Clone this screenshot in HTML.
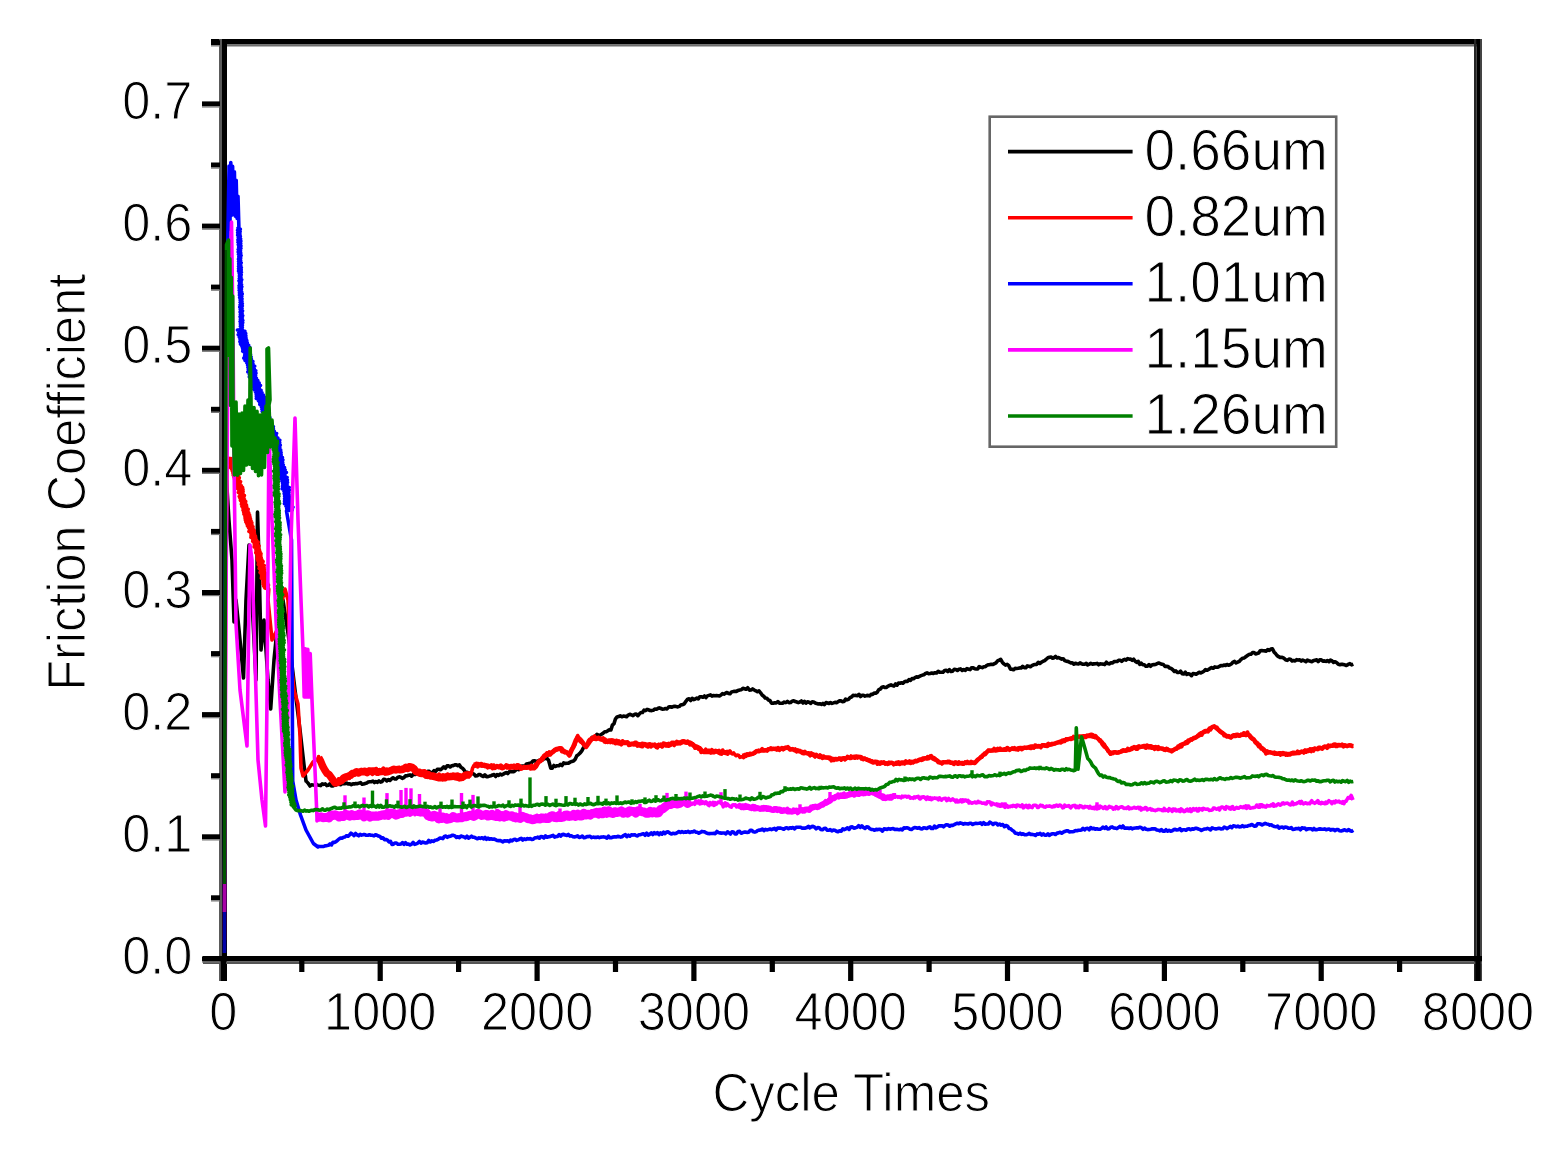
<!DOCTYPE html><html><head><meta charset="utf-8"><style>html,body{margin:0;padding:0;background:#fff;overflow:hidden;}svg{display:block;}text{font-family:"Liberation Sans",Arial,sans-serif;fill:#000;stroke:#fff;stroke-width:1.0px;stroke-linejoin:round;}</style></head><body>
<svg width="1544" height="1157" viewBox="0 0 1544 1157">
<rect width="1544" height="1157" fill="#fff"/>
<rect x="211" y="39" width="1271" height="5.5" fill="#000"/>
<rect x="219" y="44.5" width="1259" height="2" fill="#6e6e6e"/>
<rect x="219" y="39" width="3" height="942" fill="#5a5a5a"/>
<rect x="222" y="39" width="5" height="942" fill="#000"/>
<rect x="1474" y="39" width="2.5" height="942" fill="#262626"/>
<rect x="1476.5" y="39" width="3.5" height="942" fill="#000"/>
<rect x="1480" y="39" width="2" height="942" fill="#444"/>
<rect x="203" y="956" width="1279" height="5.5" fill="#000"/>
<rect x="203" y="961.5" width="1279" height="2.5" fill="#555"/>
<rect x="202" y="956.4" width="18" height="5" fill="#000"/>
<rect x="202" y="961.4" width="18" height="1.2" fill="#777"/>
<rect x="211" y="895.3" width="9" height="5" fill="#000"/>
<rect x="211" y="900.3" width="9" height="1.2" fill="#777"/>
<rect x="202" y="834.3" width="18" height="5" fill="#000"/>
<rect x="202" y="839.3" width="18" height="1.2" fill="#777"/>
<rect x="211" y="773.2" width="9" height="5" fill="#000"/>
<rect x="211" y="778.2" width="9" height="1.2" fill="#777"/>
<rect x="202" y="712.1" width="18" height="5" fill="#000"/>
<rect x="202" y="717.1" width="18" height="1.2" fill="#777"/>
<rect x="211" y="651.1" width="9" height="5" fill="#000"/>
<rect x="211" y="656.1" width="9" height="1.2" fill="#777"/>
<rect x="202" y="590.0" width="18" height="5" fill="#000"/>
<rect x="202" y="595.0" width="18" height="1.2" fill="#777"/>
<rect x="211" y="528.9" width="9" height="5" fill="#000"/>
<rect x="211" y="533.9" width="9" height="1.2" fill="#777"/>
<rect x="202" y="467.8" width="18" height="5" fill="#000"/>
<rect x="202" y="472.8" width="18" height="1.2" fill="#777"/>
<rect x="211" y="406.8" width="9" height="5" fill="#000"/>
<rect x="211" y="411.8" width="9" height="1.2" fill="#777"/>
<rect x="202" y="345.7" width="18" height="5" fill="#000"/>
<rect x="202" y="350.7" width="18" height="1.2" fill="#777"/>
<rect x="211" y="284.6" width="9" height="5" fill="#000"/>
<rect x="211" y="289.6" width="9" height="1.2" fill="#777"/>
<rect x="202" y="223.6" width="18" height="5" fill="#000"/>
<rect x="202" y="228.6" width="18" height="1.2" fill="#777"/>
<rect x="211" y="162.5" width="9" height="5" fill="#000"/>
<rect x="211" y="167.5" width="9" height="1.2" fill="#777"/>
<rect x="202" y="101.4" width="18" height="5" fill="#000"/>
<rect x="202" y="106.4" width="18" height="1.2" fill="#777"/>
<rect x="211" y="40.3" width="9" height="5" fill="#000"/>
<rect x="211" y="45.3" width="9" height="1.2" fill="#777"/>
<rect x="220.8" y="960" width="5.2" height="21" fill="#000"/>
<rect x="299.2" y="960" width="5.2" height="12" fill="#000"/>
<rect x="377.6" y="960" width="5.2" height="21" fill="#000"/>
<rect x="456.0" y="960" width="5.2" height="12" fill="#000"/>
<rect x="534.5" y="960" width="5.2" height="21" fill="#000"/>
<rect x="612.9" y="960" width="5.2" height="12" fill="#000"/>
<rect x="691.3" y="960" width="5.2" height="21" fill="#000"/>
<rect x="769.7" y="960" width="5.2" height="12" fill="#000"/>
<rect x="848.1" y="960" width="5.2" height="21" fill="#000"/>
<rect x="926.5" y="960" width="5.2" height="12" fill="#000"/>
<rect x="1004.9" y="960" width="5.2" height="21" fill="#000"/>
<rect x="1083.4" y="960" width="5.2" height="12" fill="#000"/>
<rect x="1161.8" y="960" width="5.2" height="21" fill="#000"/>
<rect x="1240.2" y="960" width="5.2" height="12" fill="#000"/>
<rect x="1318.6" y="960" width="5.2" height="21" fill="#000"/>
<rect x="1397.0" y="960" width="5.2" height="12" fill="#000"/>
<rect x="1475.4" y="960" width="5.2" height="21" fill="#000"/>
<polyline points="224.5,959.0 225.0,560.0 226.5,480.0 229.0,521.0 232.0,560.0 234.0,622.0 236.0,600.0 240.0,640.0 243.5,678.0 246.0,600.0 249.0,545.0 252.0,600.0 254.5,650.0 256.0,680.0 257.5,512.0 259.0,560.0 261.0,650.0 264.0,620.0 268.0,680.0 270.7,709.0 274.0,660.0 278.0,620.0 283.0,600.0 289.0,640.0 295.0,690.0 300.0,730.0 304.0,765.0 306.0,781.0 306.0,780.9 308.0,783.1 310.0,786.0 311.5,784.9 313.1,785.0 314.6,785.2 316.1,784.2 317.6,785.0 319.2,785.2 320.7,785.6 322.2,783.9 323.7,784.4 325.3,783.9 326.8,785.6 328.3,785.3 329.8,783.8 331.4,786.0 332.9,786.0 334.4,785.2 335.9,785.1 337.5,784.0 339.0,783.6 340.5,784.7 342.1,783.5 343.6,783.7 345.2,783.7 346.7,783.1 348.2,784.0 349.8,783.8 351.3,784.6 352.9,783.8 354.4,783.9 355.9,783.5 357.5,783.7 359.0,783.1 360.5,782.6 362.1,784.2 363.6,784.0 365.2,783.5 366.7,783.1 368.2,782.0 369.8,781.7 371.3,781.7 372.9,781.1 374.4,782.6 375.9,781.5 377.5,782.3 379.0,780.9 380.6,782.1 382.1,781.5 383.7,779.2 385.2,779.5 386.8,780.9 388.3,779.6 389.9,780.5 391.4,778.9 393.0,777.8 394.5,778.9 396.1,779.0 397.6,777.5 399.2,776.8 400.7,777.2 402.3,778.4 403.8,777.7 405.4,775.9 406.9,775.9 408.5,775.3 410.0,774.9 411.7,776.2 413.3,774.2 415.0,774.5 416.7,773.7 418.3,772.6 420.0,773.4 421.6,771.8 423.1,772.9 424.6,771.5 426.2,772.1 427.8,771.4 429.3,771.4 430.8,773.0 432.4,772.4 434.0,770.7 435.6,771.5 437.3,769.3 438.9,769.2 440.5,769.7 442.1,768.6 443.8,766.8 445.4,768.3 447.0,765.9 448.6,765.9 450.1,767.0 451.6,765.8 453.2,765.6 454.8,764.9 456.3,764.8 457.8,765.8 459.4,764.9 460.9,767.3 462.5,768.3 464.1,770.0 465.6,772.8 467.3,772.3 469.0,773.2 470.6,774.5 472.3,773.5 474.0,774.1 475.6,776.0 477.1,775.8 478.6,774.6 480.2,774.5 481.8,775.9 483.3,776.5 484.9,774.8 486.4,776.7 488.0,776.6 489.5,776.1 491.1,775.7 492.6,775.0 494.1,774.6 495.6,776.5 497.1,774.5 498.6,775.3 500.1,774.0 501.7,775.0 503.2,774.2 504.7,773.2 506.2,772.6 507.7,773.6 509.2,771.8 510.8,771.5 512.3,771.6 513.9,771.6 515.5,770.3 517.0,768.8 518.6,769.7 520.2,767.2 521.7,766.1 523.3,766.0 524.9,765.8 526.4,764.1 528.0,763.7 529.6,763.3 531.2,763.0 532.8,761.1 534.4,760.8 536.0,761.2 537.6,761.3 539.1,760.4 540.7,760.4 542.3,760.0 543.9,758.8 545.5,758.4 547.0,758.3 548.6,760.3 550.7,768.1 552.3,768.2 553.9,765.5 555.5,766.5 557.1,765.7 558.8,765.8 560.4,764.4 562.0,765.5 563.6,762.8 565.2,763.5 566.9,763.3 568.5,763.1 570.2,762.1 571.8,761.4 573.5,761.0 575.2,759.2 576.8,755.8 578.5,754.6 580.1,753.0 581.8,750.9 583.5,747.7 585.3,746.5 587.0,744.6 588.7,741.8 590.5,739.9 592.2,737.2 593.8,737.0 595.3,736.4 596.9,734.4 598.4,735.1 600.0,735.2 601.5,734.3 603.1,733.2 604.7,731.7 606.2,731.8 607.8,730.8 609.3,729.7 610.9,730.0 612.4,725.1 614.0,723.6 615.5,718.8 617.0,717.0 618.6,716.6 620.2,715.8 621.8,716.8 623.4,716.1 625.0,716.3 626.6,716.8 628.2,715.1 629.8,714.3 631.4,714.9 633.0,715.6 634.6,714.3 636.2,714.1 637.8,715.7 639.3,714.0 640.9,712.5 642.5,712.5 644.0,710.1 645.5,710.7 647.1,709.4 648.6,709.8 650.1,710.5 651.7,710.6 653.2,710.3 654.7,709.0 656.3,709.3 657.8,708.5 659.3,707.8 660.9,708.5 662.4,709.2 664.0,709.0 665.5,708.5 667.0,708.9 668.6,707.1 670.1,706.7 671.6,707.2 673.2,706.6 674.7,706.2 676.2,706.6 677.8,706.9 679.3,706.4 681.0,704.7 682.6,704.7 684.3,703.8 685.9,701.3 687.6,699.2 689.1,698.8 690.7,700.5 692.2,698.3 693.7,699.6 695.2,699.0 696.8,698.1 698.3,698.9 699.8,696.8 701.3,696.8 702.9,697.3 704.4,696.0 705.9,697.6 707.4,695.9 709.0,695.4 710.5,694.9 712.0,696.1 713.5,695.5 715.0,695.7 716.5,695.5 718.0,695.7 719.5,695.9 721.0,695.0 722.5,693.6 724.0,694.1 725.5,693.2 727.0,692.5 728.5,693.4 730.0,693.8 731.6,691.9 733.2,691.6 734.8,691.2 736.4,691.4 738.1,690.4 739.7,690.0 741.3,689.8 742.9,688.3 744.5,688.7 746.1,689.3 747.7,687.7 749.3,690.1 750.9,690.0 752.6,688.9 754.2,690.0 755.8,690.8 757.4,691.8 759.0,690.9 760.6,692.8 762.1,695.0 763.7,696.2 765.2,698.0 766.8,698.2 768.4,700.1 769.9,700.5 771.5,703.1 773.1,703.3 774.7,702.8 776.3,702.9 777.9,701.6 779.5,703.2 781.1,703.3 782.6,703.2 784.2,702.1 785.8,702.6 787.4,701.4 789.0,702.7 790.6,702.5 792.2,701.2 793.7,700.7 795.3,701.6 796.8,702.0 798.3,702.6 799.9,702.0 801.4,701.0 802.9,703.0 804.5,701.3 806.0,703.1 807.5,701.7 809.1,702.2 810.6,703.4 812.2,701.9 813.7,702.0 815.2,703.0 816.8,703.6 818.3,704.0 819.8,703.7 821.4,704.4 822.9,703.4 824.4,704.6 826.0,702.6 827.5,703.0 829.0,703.5 830.5,702.6 832.0,703.4 833.5,702.9 835.0,702.3 836.5,702.8 838.0,701.8 839.5,700.9 841.0,700.8 842.5,701.6 844.0,701.5 845.5,699.1 847.0,699.9 848.5,699.4 850.0,697.6 851.5,697.0 853.0,695.4 854.5,695.5 856.0,695.4 857.5,695.7 859.0,694.3 860.5,696.5 862.0,695.4 863.5,695.2 865.0,696.1 866.5,695.6 868.0,695.4 869.5,695.9 871.0,694.4 872.6,694.4 874.1,693.1 875.7,693.3 877.2,692.2 878.8,689.6 880.4,689.0 881.9,687.2 883.5,686.8 885.0,687.5 886.5,687.4 888.0,686.1 889.5,685.5 891.0,684.9 892.5,685.6 894.0,686.1 895.5,683.9 897.0,685.2 898.5,683.1 900.0,683.3 901.5,682.8 903.0,683.3 904.5,681.8 906.0,681.3 907.5,681.4 909.0,679.6 910.5,680.5 912.0,678.5 913.5,678.8 915.0,677.6 916.5,676.9 918.0,677.1 919.5,676.3 921.0,675.6 922.5,675.1 924.0,674.8 925.5,673.4 927.0,672.9 928.6,673.7 930.2,673.5 931.8,673.0 933.4,673.5 935.0,672.7 936.6,673.0 938.2,671.3 939.8,672.3 941.4,672.2 943.0,672.2 944.6,670.5 946.2,670.3 947.8,671.5 949.4,669.7 951.0,671.5 952.6,671.2 954.2,669.3 955.8,669.5 957.4,670.5 959.0,669.3 960.6,668.9 962.2,670.5 963.8,669.5 965.4,670.3 967.0,668.6 968.6,669.2 970.1,669.6 971.6,667.7 973.2,667.9 974.7,668.7 976.2,669.0 977.7,668.9 979.2,666.6 980.8,667.2 982.3,667.6 983.8,666.7 985.3,666.8 986.8,665.4 988.4,664.8 989.9,664.6 991.4,664.2 993.0,664.5 994.5,663.6 996.0,662.8 997.6,660.9 999.2,660.1 1000.7,659.3 1002.3,662.2 1003.9,663.9 1005.5,665.1 1007.2,664.4 1008.8,665.7 1010.4,669.1 1012.0,669.3 1013.5,669.8 1015.1,668.4 1016.6,668.5 1018.1,668.3 1019.7,667.9 1021.2,668.0 1022.7,666.3 1024.3,667.7 1025.8,667.8 1027.3,665.9 1028.9,666.3 1030.4,666.7 1031.9,665.6 1033.5,664.8 1035.0,664.5 1036.6,664.4 1038.2,662.3 1039.8,663.5 1041.4,662.3 1043.1,661.2 1044.7,660.6 1046.3,659.2 1047.9,657.7 1049.5,657.2 1051.0,657.0 1052.6,658.2 1054.1,657.7 1055.6,656.4 1057.2,658.0 1058.7,657.6 1060.2,658.3 1061.7,659.1 1063.2,658.7 1064.7,660.6 1066.2,661.2 1067.8,661.4 1069.3,662.2 1070.8,662.9 1072.3,662.7 1073.8,664.1 1075.3,663.2 1076.9,663.8 1078.4,664.0 1080.0,662.9 1081.5,663.7 1083.1,664.3 1084.6,664.2 1086.2,663.3 1087.7,664.9 1089.3,664.2 1090.8,663.4 1092.4,664.1 1093.9,663.9 1095.5,663.7 1097.1,663.4 1098.6,664.8 1100.2,663.9 1101.7,664.0 1103.3,664.1 1104.8,664.6 1106.4,662.2 1107.9,663.6 1109.5,663.9 1111.0,662.7 1112.6,663.0 1114.1,661.6 1115.6,661.5 1117.1,661.5 1118.6,660.3 1120.1,660.2 1121.7,661.3 1123.2,660.0 1124.7,659.4 1126.2,660.1 1127.7,658.6 1129.2,659.2 1130.7,659.1 1132.2,660.3 1133.7,659.2 1135.2,661.3 1136.7,662.4 1138.3,661.4 1139.8,664.3 1141.3,663.2 1142.8,664.7 1144.3,664.8 1145.8,666.3 1147.4,666.2 1149.0,664.6 1150.6,666.3 1152.2,664.7 1153.9,664.6 1155.5,664.5 1157.1,663.6 1158.7,663.0 1160.3,663.6 1161.9,664.3 1163.4,664.5 1165.0,666.5 1166.5,666.4 1168.1,666.6 1169.7,668.1 1171.2,668.5 1172.8,669.7 1174.4,671.5 1175.9,670.9 1177.5,672.5 1179.0,672.5 1180.6,671.1 1182.2,673.7 1183.7,674.0 1185.3,672.2 1186.8,674.5 1188.4,673.7 1189.9,674.2 1191.5,675.7 1193.0,673.5 1194.6,673.7 1196.2,674.3 1197.7,673.3 1199.2,672.2 1200.8,673.0 1202.3,672.2 1203.9,671.2 1205.5,669.6 1207.0,670.3 1208.5,669.5 1210.1,668.4 1211.6,667.6 1213.2,668.3 1214.8,666.9 1216.3,667.2 1217.8,667.3 1219.4,666.4 1220.9,665.5 1222.4,665.8 1223.9,665.0 1225.5,665.5 1227.0,664.5 1228.5,665.2 1230.0,664.7 1231.6,663.7 1233.1,662.1 1234.6,661.4 1236.1,662.9 1237.7,662.2 1239.2,661.4 1240.9,659.6 1242.6,658.2 1244.3,657.9 1246.1,656.5 1247.8,655.3 1249.5,654.2 1251.0,654.2 1252.6,652.6 1254.1,652.5 1255.6,653.9 1257.1,653.5 1258.7,653.1 1260.2,650.8 1261.7,650.6 1263.2,650.8 1264.8,650.9 1266.3,651.1 1267.8,649.6 1269.3,650.4 1270.9,649.0 1272.4,648.7 1274.0,651.9 1275.5,653.5 1277.0,655.5 1278.6,656.7 1280.3,657.5 1282.1,657.3 1283.8,658.2 1285.5,659.7 1287.3,660.4 1289.0,659.1 1290.5,659.2 1292.1,660.9 1293.6,660.5 1295.1,660.9 1296.7,659.6 1298.2,660.1 1299.8,659.8 1301.3,661.1 1302.8,660.1 1304.4,660.8 1305.9,661.7 1307.4,660.1 1309.0,660.7 1310.5,661.2 1312.1,661.7 1313.6,660.5 1315.1,660.4 1316.7,659.8 1318.2,661.7 1319.7,659.8 1321.3,659.9 1322.8,661.1 1324.4,660.9 1325.9,661.4 1327.4,660.5 1329.0,661.7 1330.5,660.1 1332.1,660.9 1333.6,662.5 1335.2,661.7 1336.8,662.7 1338.3,664.3 1339.9,664.7 1341.4,664.3 1343.0,664.4 1344.7,664.8 1346.4,665.5 1348.2,664.4 1349.9,663.6 1351.6,664.9 1353.3,664.2" fill="none" stroke="#000" stroke-width="3.6" stroke-linejoin="round" stroke-linecap="butt"/>
<polyline points="742.4,755.9 744.5,755.2 746.5,754.5 748.6,755.0 750.7,754.5 752.7,753.8 754.8,752.4 756.9,751.0 758.9,751.4 761.0,750.3 763.1,750.6 765.2,750.2 767.2,749.9 769.3,749.2 771.4,749.0 773.5,748.7 775.5,749.1 777.6,748.7 779.7,749.6 781.8,748.0 783.8,749.0 785.9,747.8 788.0,747.7 790.1,749.6 792.2,749.0 794.3,750.2 796.3,750.8 798.4,751.1 800.5,751.6 802.6,751.8 804.7,753.2 806.7,753.2 808.8,754.0 810.9,754.9 813.0,754.2 815.0,755.2 817.1,755.6 819.2,757.0 821.3,757.0 823.3,756.8 825.4,757.7 827.5,757.5 829.6,758.7 831.6,758.5 833.7,759.1 835.8,759.5 837.9,759.2 839.9,758.5 842.0,758.8 844.1,758.1 846.2,758.5 848.2,757.2 850.3,758.2 852.4,757.3 854.5,756.6 856.5,756.5 858.6,756.8 860.7,756.8 862.7,759.0 864.8,758.7 866.9,759.9 868.9,760.2 871.0,761.6 873.1,762.7 875.2,761.7 877.3,762.0 879.4,762.8 881.4,763.2 883.5,762.7 885.6,763.1 887.7,764.0 889.8,763.2 891.8,762.7 893.9,763.7 896.0,763.8 898.1,763.5 900.1,763.5 902.2,762.3 904.3,762.3 906.3,762.6 908.4,762.5 910.5,762.4 912.6,762.1 914.6,761.4 916.7,761.3 918.8,760.3 920.8,759.5 922.9,759.6 925.0,758.1 927.1,758.7 929.1,758.1 931.2,756.0 933.3,758.9 935.4,759.9 937.4,760.5 939.5,762.6 941.6,762.6 943.7,762.5 945.7,762.1 947.8,762.4 949.9,762.0 952.0,762.7 954.0,762.8 956.1,762.4 958.2,763.5 960.3,763.4 962.3,762.8 964.4,763.3 966.5,762.6 968.6,763.2 970.6,763.2 972.7,762.6 974.8,763.2 976.9,760.8 978.9,758.7 981.0,757.3 983.1,755.0 985.2,754.2 987.2,751.7 989.3,750.3 991.4,750.7 993.5,750.2 995.5,750.6 997.6,750.1 999.7,749.9 1001.8,749.9 1003.9,749.7 1005.9,749.9 1008.0,749.3 1010.1,749.2 1012.2,748.9 1014.3,748.8 1016.3,749.3 1018.4,748.1 1020.5,747.8 1022.6,748.1 1024.6,747.5 1026.7,748.0 1028.8,747.6 1030.9,746.4 1032.9,746.5 1035.0,746.9 1037.1,746.3 1039.1,746.5 1041.2,746.0 1043.3,745.2 1045.4,745.9 1047.4,746.1 1049.5,744.4 1051.7,744.6 1053.8,743.8 1056.0,743.1 1058.1,742.2 1060.3,741.5 1062.5,741.6 1064.6,740.7 1066.8,739.2 1068.9,739.1 1071.1,738.2 1073.2,738.2 1075.3,738.3 1077.3,736.6 1079.4,736.6 1081.5,736.4 1083.6,737.1 1085.7,737.1 1087.7,735.8 1089.8,736.0 1091.9,736.4 1093.9,736.9 1096.0,737.3 1098.0,738.5 1100.1,741.2 1102.2,742.4 1104.2,746.4 1106.3,747.9 1108.4,751.0 1110.5,753.8 1112.6,752.6 1114.7,752.2 1116.7,752.7 1118.8,752.1 1120.9,751.9 1123.0,750.1 1125.0,750.5 1127.1,750.2 1129.2,750.1 1131.2,749.3 1133.3,748.1 1135.4,747.4 1137.5,747.0 1139.5,746.7 1141.6,746.8 1143.7,745.9 1145.8,745.9 1147.9,746.1 1149.9,747.4 1152.0,747.9 1154.1,747.1 1156.2,748.0 1158.2,749.0 1160.3,748.3 1162.4,748.9 1164.5,749.6 1166.6,748.7 1168.6,750.3 1170.7,750.4 1172.8,750.7 1174.9,748.9 1177.0,748.0 1179.0,747.5 1181.1,744.9 1183.2,743.8 1185.2,743.5 1187.3,742.9 1189.4,740.4 1191.5,739.3 1193.6,738.5 1195.6,737.8 1197.7,736.3 1199.8,735.2 1201.8,733.0 1203.9,732.1 1206.0,731.5 1208.1,730.5 1210.2,728.3 1212.2,727.1 1214.3,726.2 1216.4,728.2 1218.4,729.8 1220.5,731.4 1222.6,733.0 1224.7,734.7 1226.8,736.0 1228.8,736.2 1230.9,737.5 1233.0,735.8 1235.1,736.2 1237.1,735.4 1239.2,735.8 1241.3,735.0 1243.3,734.7 1245.4,734.8 1247.5,734.4 1249.6,735.2 1251.6,737.8 1253.7,739.3 1255.7,742.1 1257.8,743.6 1259.8,746.5 1261.9,748.0 1263.9,749.5 1266.0,753.0 1268.1,752.0 1270.2,752.4 1272.3,753.0 1274.4,752.5 1276.5,753.8 1278.5,753.9 1280.6,753.1 1282.7,754.1 1284.8,753.5 1286.9,754.4 1289.0,753.8 1291.1,753.7 1293.1,753.6 1295.2,753.3 1297.3,753.0 1299.4,753.0 1301.4,751.7 1303.5,751.3 1305.6,750.6 1307.7,751.0 1309.7,750.0 1311.8,749.3 1313.9,748.9 1315.9,748.8 1318.0,749.1 1320.1,748.0 1322.2,748.2 1324.2,747.2 1326.3,746.9 1328.4,746.0 1330.5,745.8 1332.5,745.9 1334.6,744.4 1336.7,745.1 1338.8,744.9 1340.8,745.1 1342.9,745.3 1345.0,745.2 1347.1,746.0 1349.1,745.2 1351.2,745.7 1353.3,746.2" fill="none" stroke="#f00" stroke-width="4.3" stroke-linejoin="round" stroke-linecap="butt"/>
<polyline points="318.6,757.5 320.7,761.4 322.9,766.7 325.0,770.4 327.0,773.4 329.0,774.5 331.0,777.2 333.0,780.0 335.0,783.0 337.2,782.6 339.3,781.5 341.5,780.5 343.7,777.8 345.9,776.8 348.0,776.3 350.2,775.4 352.4,773.5 354.5,773.2 356.7,771.7 358.8,773.0 360.9,771.6 362.9,771.7 365.0,771.3 367.1,772.6 369.2,771.0 371.2,771.5 373.3,771.0 375.4,770.9 377.5,772.3 379.5,771.7 381.6,771.6 383.7,770.7 385.8,771.9 387.8,771.7 389.9,771.0 392.0,770.1 394.0,769.3 396.0,769.9 398.0,769.4 400.0,769.7 402.0,769.6 404.0,768.8 406.0,767.3 408.0,768.4 410.0,767.2 412.0,767.2 414.0,768.7 416.0,771.4 418.0,772.2 420.0,773.3 422.1,773.6 424.1,772.9 426.2,775.2 428.3,774.5 430.4,776.0 432.5,776.0 434.5,776.5 436.6,777.1 438.7,777.8 440.8,777.7 442.8,776.8 444.9,777.7 447.0,776.4 449.1,776.7 451.1,776.6 453.2,776.1 455.3,776.8 457.4,776.0 459.4,777.9 461.5,777.6 463.6,776.4 465.6,775.1 467.7,775.0 469.8,774.9" fill="none" stroke="#f00" stroke-width="7.5" stroke-linejoin="round" stroke-linecap="butt"/>
<polyline points="474.0,765.0 476.1,764.3 478.1,764.2 480.2,765.1 482.3,765.6 484.3,764.9 486.4,765.7 488.5,766.2 490.5,766.9 492.6,766.4 494.7,767.6 496.8,766.1 498.8,767.1 500.9,765.8 503.0,767.4 505.1,766.7 507.2,765.9 509.2,767.2 511.3,767.4 513.4,765.9 515.5,767.5 517.5,767.7 519.6,766.6 521.6,767.6 523.7,767.5 525.8,767.3 527.8,767.1 529.9,767.0 531.9,768.1 534.0,768.2 536.1,766.2 538.2,762.2 540.3,760.9 542.4,758.9 544.5,755.6 546.6,754.1 548.6,754.6 550.7,753.2 552.8,751.9 554.9,749.9 556.9,749.0 559.0,748.5 561.1,748.3 563.2,750.8 565.2,752.0 567.3,752.8 569.4,755.0 571.5,750.2 573.5,746.6 575.6,741.0 577.7,737.3 579.8,739.2 581.9,741.6 583.9,744.2 586.0,746.8 588.1,743.9 590.1,741.0 592.2,738.5 594.3,738.4 596.3,738.9 598.4,738.0 600.5,739.1 602.6,739.7 604.6,739.4 606.7,741.4 608.8,740.7 610.9,740.7 612.9,740.7 615.0,741.9 617.1,741.8 619.2,743.4 621.3,743.0 623.3,742.9 625.4,742.7 627.5,742.8 629.6,744.2 631.6,744.2 633.7,744.1 635.8,744.3 637.9,744.2 639.9,745.4 642.0,743.8 644.1,744.3 646.2,745.5 648.2,744.7 650.3,744.9 652.4,745.2 654.5,745.1 656.5,746.2 658.6,745.0 660.7,745.6 662.7,745.6 664.8,744.6 666.9,745.1 669.0,744.0 671.0,744.3 673.1,743.0 675.2,743.1 677.2,743.3 679.3,743.1 681.4,742.5 683.5,741.4 685.5,742.1 687.6,742.4 689.7,742.6 691.8,743.8 693.9,745.9 695.9,746.5 698.0,747.5 700.1,748.8 702.2,751.2 704.3,751.9 706.5,751.8 708.6,751.5 710.8,752.2 712.9,752.2 715.0,751.2 717.2,751.5 719.3,752.8 721.4,752.9 723.6,752.4 725.7,752.4 727.9,752.0 730.0,752.4" fill="none" stroke="#f00" stroke-width="4.8" stroke-linejoin="round" stroke-linecap="butt"/>
<polyline points="224.5,940.0 225.5,600.0 227.0,470.0 225.6,458.0 232.1,458.8 227.6,459.5 233.7,460.5 229.0,461.4 234.2,462.4 229.8,463.4 234.1,464.4 230.3,465.3 235.6,466.3 230.2,467.3 235.2,468.2 231.6,469.2 236.0,470.2 232.3,471.1 236.7,472.1 232.9,473.1 237.0,474.1 233.2,475.0 238.6,476.0 233.9,477.0 239.3,477.9 234.5,478.9 238.9,479.9 234.8,480.8 240.6,481.8 236.2,482.8 240.0,483.8 236.5,484.7 241.4,485.7 237.0,486.7 242.6,487.6 237.5,488.6 243.0,489.6 238.9,490.6 243.1,491.5 238.3,492.5 242.9,493.5 239.9,494.5 244.4,495.5 239.2,496.5 243.9,497.4 240.0,498.4 244.5,499.4 240.4,500.4 245.7,501.4 241.6,502.3 245.6,503.3 241.4,504.3 246.5,505.3 241.9,506.3 246.8,507.2 243.0,508.2 248.2,509.2 243.0,510.2 248.0,511.2 243.7,512.1 248.8,513.1 243.9,514.1 249.6,515.1 244.9,516.1 250.0,517.1 245.0,518.0 250.5,519.0 245.3,520.0 251.1,521.0 245.8,521.9 251.9,522.9 246.8,523.8 251.9,524.8 247.4,525.8 253.0,526.7 248.5,527.7 253.1,528.7 249.5,529.6 254.2,530.6 248.9,531.5 254.3,532.5 250.8,533.5 254.7,534.4 251.1,535.4 255.5,536.3 250.9,537.3 255.8,538.3 252.6,539.2 256.5,540.2 252.7,541.2 258.2,542.1 254.1,543.1 257.8,544.0 254.3,545.0 259.1,546.0 254.1,547.0 258.7,547.9 255.8,548.9 259.4,549.9 256.0,550.9 260.0,551.8 255.8,552.8 261.0,553.8 257.0,554.8 260.8,555.8 257.3,556.7 261.2,557.7 257.1,558.7 261.9,559.7 257.8,560.6 263.1,561.6 258.4,562.6 262.7,563.6 258.2,564.6 264.2,565.5 259.5,566.5 264.1,567.5 259.1,568.5 264.4,569.4 260.6,570.4 264.3,571.4 260.0,572.4 265.8,573.4 261.3,574.3 265.9,575.3 261.6,576.3 266.0,577.3 261.3,578.2 267.0,579.2 262.9,580.2 266.5,581.2 263.0,582.2 267.5,583.1 263.0,584.1 268.5,585.1 263.7,586.1 268.1,587.0 264.8,588.0 268.8,589.0 268.0,600.0 272.0,640.0 277.0,630.0 281.0,605.0 285.0,589.0 288.0,600.0 290.0,650.0 294.0,690.0 298.0,704.0 300.0,736.0 301.0,768.0 303.0,776.0 308.0,770.0 313.0,762.0 318.6,758.0 318.6,756.6 319.9,762.6 321.2,762.9 322.4,766.0 323.7,770.6 325.0,768.6 326.2,771.8 327.5,771.2 328.8,776.5 330.0,773.5 331.2,780.1 332.5,781.8 333.8,783.3 335.0,780.5 336.2,781.0 337.4,783.1 338.6,778.8 339.8,780.5 341.0,779.9 342.2,782.2 343.4,779.4 344.6,780.4 345.9,776.5 347.1,778.8 348.3,776.0 349.5,778.4 350.7,772.9 351.9,776.7 353.1,772.4 354.3,773.8 355.5,773.1 356.7,770.3 357.9,774.3 359.1,771.1 360.4,771.1 361.6,769.6 362.8,770.9 364.0,771.8 365.2,773.3 366.4,771.1 367.7,773.0 368.9,769.4 370.1,771.1 371.3,771.4 372.5,774.4 373.7,773.5 375.0,772.4 376.2,768.5 377.4,770.6 378.6,772.5 379.8,769.6 381.0,771.5 382.3,770.8 383.5,768.1 384.7,773.9 385.9,772.7 387.1,769.1 388.3,771.5 389.6,769.5 390.8,769.9 392.0,770.8 393.2,769.1 394.4,769.1 395.6,769.2 396.8,770.6 398.0,767.9 399.2,767.4 400.4,770.3 401.6,767.7 402.8,771.1 404.0,768.6 405.2,769.3 406.4,766.7 407.6,769.4 408.8,764.8 410.0,764.8 411.2,765.3 412.5,769.5 413.8,770.4 415.0,768.0 416.2,770.0 417.5,773.4 418.8,772.6 420.0,770.3 421.3,771.5 422.6,771.4 423.8,771.5 425.1,773.5 426.4,771.9 427.7,777.3 428.9,774.6 430.2,775.5 431.5,776.6 432.8,777.6 434.0,778.3 435.3,776.0 436.6,776.0 437.8,776.5 439.1,774.1 440.3,776.4 441.6,778.2 442.8,779.9 444.1,778.7 445.3,778.0 446.6,777.7 447.8,774.1 449.1,776.0 450.3,776.1 451.5,777.9 452.8,774.6 454.0,776.3 455.3,777.1 456.5,778.7 457.8,779.0 459.0,777.7 460.3,775.0 461.5,778.6 462.9,779.1 464.3,776.6 465.6,775.1 467.0,775.6 468.4,773.1 469.8,776.2 471.2,773.6 472.6,768.0 474.0,765.4 475.2,766.1 476.5,763.4 477.7,766.9 479.0,765.6 480.2,763.9 481.4,763.5 482.7,764.4 483.9,766.0 485.2,766.6 486.4,765.1 487.6,767.9 488.9,765.6 490.1,766.2 491.4,764.8 492.6,768.7 493.8,765.0 495.0,768.4 496.3,766.8 497.5,766.9 498.7,766.9 499.9,765.6 501.2,768.4 502.4,768.8 503.6,768.0 504.8,767.0 506.1,764.9 507.3,768.0 508.5,765.7 509.7,768.3 511.0,765.5 512.2,766.9 513.4,768.1 514.6,765.3 515.8,766.9 517.0,764.9 518.2,764.8 519.5,765.5 520.7,769.1 521.9,768.9 523.1,767.8 524.3,766.3 525.5,767.9 526.7,768.3 527.9,766.8 529.2,767.8 530.4,768.8 531.6,765.4 532.8,766.2 534.0,767.5 535.3,764.6 536.6,764.3 537.9,763.6 539.2,760.5 540.6,760.6 541.9,758.0 543.2,757.9 544.5,755.5 545.7,756.1 546.9,752.8 548.1,754.9 549.3,751.9 550.5,754.8 551.8,752.5 553.0,751.2 554.2,750.3 555.4,750.5 556.6,750.1 557.8,749.7 559.0,749.0 560.3,748.6 561.6,751.6 562.9,751.7 564.2,752.6 565.5,751.4 566.8,752.3 568.1,753.6 569.4,755.9 570.8,751.4 572.2,748.7 573.5,745.5 574.9,744.8 576.3,739.5 577.7,735.5 579.1,739.9 580.5,742.0 581.9,742.7 583.2,743.5 584.6,745.5 586.0,744.9 587.2,744.6 588.5,740.6 589.7,739.2 591.0,738.9 592.2,737.5 593.4,737.3 594.6,736.0 595.8,739.1 597.0,738.6 598.2,737.6 599.5,738.2 600.7,738.8 601.9,738.4 603.1,737.9 604.3,741.9 605.5,742.4 606.7,741.3 607.9,742.4 609.1,740.6 610.4,742.5 611.6,740.1 612.8,742.6 614.0,742.0 615.3,743.7 616.5,740.3 617.7,743.5 618.9,740.8 620.2,742.8 621.4,744.8 622.6,740.8 623.8,742.0 625.1,742.5 626.3,742.7 627.5,741.8 628.7,745.5 630.0,745.3 631.2,743.5 632.5,743.4 633.7,744.5 635.0,742.2 636.2,742.2 637.5,746.1 638.7,743.6 639.9,744.5 641.2,746.5 642.4,746.8 643.7,744.7 644.9,743.6 646.2,744.1 647.4,746.9 648.6,746.9 649.9,743.9 651.1,746.8 652.4,744.7 653.6,745.3 654.9,744.1 656.1,747.3 657.4,747.9 658.6,744.5 659.8,746.2 661.0,744.1 662.2,747.0 663.4,743.1 664.6,743.2 665.9,745.8 667.1,743.8 668.3,746.2 669.5,745.9 670.7,745.0 671.9,742.3 673.1,744.6 674.3,745.5 675.5,743.2 676.7,741.4 677.9,741.8 679.1,742.0 680.4,743.7 681.6,741.2 682.8,741.0 684.0,741.0 685.2,742.8 686.4,743.1 687.6,741.1 688.8,743.2 690.0,744.9 691.2,744.4 692.5,743.6 693.7,744.7 694.9,748.2 696.1,747.9 697.3,746.9 698.6,749.3 699.8,747.6 701.0,752.4 702.2,750.7 703.4,751.2 704.6,751.3 705.8,749.2 707.0,751.7 708.2,750.4 709.5,750.3 710.7,752.8 711.9,749.7 713.1,750.6 714.3,752.7 715.5,750.6 716.7,750.8 717.9,752.0 719.1,750.5 720.3,753.7 721.5,754.1 722.7,750.0 724.0,751.9 725.2,753.3 726.4,751.7 727.6,754.2 728.8,752.3 730.0,751.0 731.2,753.1 732.5,753.9 733.7,753.0 735.0,754.8 736.2,755.7 737.4,755.0 738.7,755.4 739.9,757.3 741.2,756.8 742.4,756.7 743.6,757.7 744.9,754.7 746.1,756.3 747.4,753.8 748.6,754.9 749.8,753.2 751.1,753.5 752.3,754.2 753.6,753.8 754.8,753.4 756.0,751.1 757.3,751.5 758.5,750.2 759.8,751.0 761.0,750.3 762.2,748.6 763.5,750.4 764.7,750.8 765.9,750.2 767.1,751.1 768.4,748.7 769.6,748.5 770.8,747.9 772.0,749.5 773.3,749.2 774.5,749.1 775.7,748.4 777.0,750.1 778.2,747.6 779.4,750.3 780.6,749.1 781.9,748.9 783.1,749.7 784.3,747.7 785.5,747.3 786.8,747.7 788.0,746.7 789.2,748.0 790.4,749.4 791.6,749.4 792.9,748.9 794.1,750.3 795.3,749.0 796.5,751.8 797.7,749.9 799.0,750.5 800.2,750.6 801.4,752.7 802.6,753.5 803.8,753.7 805.1,751.5 806.3,753.0 807.6,753.1 808.8,752.9 810.1,755.8 811.3,752.9 812.6,754.7 813.8,755.9 815.0,757.0 816.3,754.4 817.5,755.8 818.8,757.0 820.0,754.9 821.3,755.9 822.5,758.4 823.7,756.1 825.0,757.3 826.2,757.3 827.5,758.0 828.7,757.1 830.0,757.2 831.2,760.8 832.5,760.3 833.7,760.5 834.9,758.6 836.2,758.6 837.4,759.4 838.7,758.2 839.9,758.8 841.2,760.2 842.4,758.2 843.7,757.9 844.9,759.9 846.2,758.5 847.4,756.4 848.6,757.5 849.9,758.2 851.1,756.0 852.4,756.8 853.6,757.9 854.9,758.3 856.1,757.2 857.4,758.1 858.6,756.5 859.8,756.7 861.1,758.8 862.3,757.7 863.6,759.6 864.8,758.2 866.0,759.1 867.3,759.1 868.5,760.8 869.8,760.0 871.0,760.7 872.3,760.9 873.6,761.9 874.9,761.5 876.1,762.2 877.4,764.2 878.7,763.3 880.0,764.1 881.3,762.0 882.6,762.8 883.8,761.9 885.1,764.1 886.4,763.2 887.7,763.0 888.9,762.1 890.1,762.5 891.3,762.7 892.5,763.1 893.7,764.8 895.0,764.0 896.2,762.4 897.4,762.6 898.6,761.8 899.8,764.4 901.0,762.4 902.2,763.7 903.4,763.4 904.6,764.0 905.8,760.9 907.0,761.8 908.2,761.9 909.5,760.8 910.7,763.4 911.9,761.5 913.1,762.9 914.3,761.9 915.5,760.3 916.7,761.3 917.9,760.4 919.1,759.3 920.3,759.2 921.5,760.3 922.7,758.0 924.0,758.5 925.2,758.5 926.4,758.4 927.6,756.6 928.8,758.2 930.0,756.2 931.2,757.4 932.6,758.2 934.0,757.5 935.4,758.7 936.7,760.0 938.1,762.5 939.5,762.5 940.7,762.4 941.9,764.0 943.2,761.9 944.4,762.1 945.6,762.3 946.8,761.8 948.0,761.2 949.2,761.2 950.5,763.2 951.7,763.0 952.9,763.8 954.1,764.4 955.3,762.1 956.5,763.4 957.8,764.2 959.0,761.8 960.2,763.4 961.4,763.4 962.6,764.3 963.8,764.1 965.1,761.9 966.3,763.3 967.5,761.4 968.7,762.6 969.9,762.4 971.1,761.3 972.4,762.4 973.6,762.2 974.8,762.8 976.0,761.0 977.2,759.6 978.4,759.3 979.6,758.5 980.8,756.5 982.0,757.1 983.3,754.6 984.5,753.1 985.7,752.9 986.9,752.1 988.1,750.2 989.3,750.6 990.5,750.9 991.7,750.3 992.9,750.7 994.1,748.4 995.3,749.5 996.5,749.4 997.7,748.3 998.9,749.4 1000.1,748.1 1001.3,749.5 1002.5,749.7 1003.7,749.3 1004.9,748.7 1006.1,748.4 1007.3,747.5 1008.5,748.5 1009.7,750.3 1010.9,749.1 1012.1,748.0 1013.3,749.3 1014.5,747.6 1015.7,748.5 1016.9,748.9 1018.1,750.0 1019.3,747.9 1020.5,748.6 1021.7,749.7 1022.9,749.0 1024.1,748.3 1025.3,748.2 1026.5,747.3 1027.8,747.2 1029.0,746.6 1030.2,748.4 1031.4,748.4 1032.6,746.6 1033.8,748.2 1035.0,745.1 1036.2,745.3 1037.4,746.5 1038.6,745.6 1039.8,745.7 1041.0,747.7 1042.2,744.7 1043.5,744.7 1044.7,744.7 1045.9,746.1 1047.1,744.5 1048.3,743.5 1049.5,745.2 1050.8,744.3 1052.0,743.4 1053.3,743.8 1054.6,743.9 1055.9,743.1 1057.1,743.0 1058.4,742.3 1059.7,742.8 1060.9,742.9 1062.2,740.3 1063.5,739.9 1064.7,741.3 1066.0,739.0 1067.3,739.9 1068.6,739.4 1069.8,739.0 1071.1,739.5 1072.3,738.9 1073.5,736.5 1074.8,737.9 1076.0,737.4 1077.2,737.5 1078.4,736.7 1079.7,736.3 1080.9,737.8 1082.1,736.9 1083.3,735.8 1084.6,735.7 1085.8,735.8 1087.0,735.2 1088.2,736.2 1089.5,734.8 1090.7,734.4 1091.9,734.3 1093.1,734.9 1094.3,737.3 1095.6,735.7 1096.8,737.3 1098.0,738.8 1099.2,739.4 1100.5,739.9 1101.8,743.8 1103.0,745.4 1104.2,744.1 1105.5,746.4 1106.8,748.8 1108.0,751.3 1109.2,751.5 1110.5,754.1 1111.7,752.3 1113.0,753.6 1114.2,752.0 1115.4,751.8 1116.6,752.9 1117.9,753.0 1119.1,752.7 1120.3,751.5 1121.6,750.7 1122.8,751.4 1124.0,750.9 1125.3,751.3 1126.5,751.0 1127.7,748.4 1128.9,749.0 1130.2,749.7 1131.4,748.0 1132.6,747.5 1133.9,746.7 1135.1,748.4 1136.3,749.3 1137.6,749.1 1138.8,746.0 1140.0,747.6 1141.2,746.5 1142.5,746.9 1143.7,745.8 1144.9,747.8 1146.1,748.2 1147.3,745.2 1148.5,747.6 1149.8,745.8 1151.0,745.7 1152.2,746.7 1153.4,748.4 1154.6,749.4 1155.8,746.6 1157.0,747.5 1158.2,746.6 1159.5,748.6 1160.7,748.5 1161.9,748.3 1163.1,748.3 1164.3,750.1 1165.5,750.4 1166.7,748.7 1168.0,749.2 1169.2,750.2 1170.4,750.9 1171.6,751.8 1172.8,749.9 1174.1,750.2 1175.4,749.0 1176.6,749.2 1177.9,746.2 1179.2,745.6 1180.5,744.7 1181.7,746.8 1183.0,743.7 1184.3,743.8 1185.6,741.9 1186.8,741.8 1188.1,740.1 1189.4,741.2 1190.6,739.1 1191.9,740.0 1193.1,738.1 1194.4,737.2 1195.6,737.3 1196.9,736.2 1198.1,735.1 1199.4,733.7 1200.6,733.0 1201.8,735.1 1203.1,732.4 1204.3,730.9 1205.6,730.5 1206.8,730.8 1208.1,731.8 1209.3,728.4 1210.6,729.9 1211.8,727.9 1213.1,726.9 1214.3,727.5 1215.7,727.3 1217.1,727.4 1218.4,730.3 1219.8,731.8 1221.2,732.9 1222.6,732.9 1224.0,735.7 1225.4,736.0 1226.8,736.9 1228.1,735.6 1229.5,737.4 1230.9,737.6 1232.2,735.5 1233.5,734.7 1234.7,735.0 1236.0,734.5 1237.3,734.2 1238.6,734.9 1239.8,736.0 1241.1,734.2 1242.4,734.7 1243.7,732.8 1244.9,733.2 1246.2,735.5 1247.5,732.0 1248.7,735.0 1250.0,737.2 1251.2,738.4 1252.4,739.5 1253.7,739.6 1254.9,742.2 1256.1,743.5 1257.4,744.6 1258.6,746.6 1259.8,744.8 1261.1,748.9 1262.3,748.3 1263.5,750.6 1264.8,750.3 1266.0,753.8 1267.2,750.9 1268.4,752.9 1269.6,751.8 1270.8,752.5 1272.1,752.5 1273.3,753.6 1274.5,754.2 1275.7,752.8 1276.9,753.9 1278.1,753.0 1279.3,752.9 1280.5,755.1 1281.7,753.2 1282.9,752.6 1284.2,753.5 1285.4,755.0 1286.6,753.3 1287.8,755.2 1289.0,754.7 1290.2,754.9 1291.5,752.9 1292.7,752.4 1293.9,752.3 1295.2,752.7 1296.4,752.7 1297.6,751.1 1298.9,752.5 1300.1,751.9 1301.3,751.4 1302.6,751.8 1303.8,753.0 1305.0,750.2 1306.3,752.2 1307.5,750.1 1308.7,751.3 1310.0,748.8 1311.2,751.6 1312.4,749.4 1313.6,751.0 1314.9,748.2 1316.1,748.6 1317.3,749.4 1318.6,747.3 1319.8,747.4 1321.0,748.5 1322.3,749.2 1323.5,746.8 1324.7,746.1 1326.0,746.4 1327.2,748.3 1328.4,745.2 1329.7,746.6 1330.9,745.4 1332.1,746.1 1333.4,744.4 1334.6,745.5 1335.8,746.5 1337.1,746.5 1338.3,745.8 1339.6,745.4 1340.8,745.7 1342.1,744.2 1343.3,746.8 1344.6,746.3 1345.8,745.6 1347.1,746.4 1348.3,745.6 1349.6,745.6 1350.8,745.1 1352.1,746.5 1353.3,746.2" fill="none" stroke="#f00" stroke-width="3.6" stroke-linejoin="round" stroke-linecap="butt"/>
<polyline points="224.5,953.0 225.0,600.0 226.0,400.0 227.5,260.0 229.0,170.0 229.0,166.0 229.9,229.2 230.8,162.6 231.7,215.3 232.6,166.3 233.5,214.5 234.4,171.9 235.3,216.3 236.2,180.4 237.1,218.5 238.0,196.2 238.9,227.5 238.0,228.0 240.3,229.2 237.6,230.4 240.1,231.6 237.7,232.8 240.0,234.0 237.7,235.2 240.3,236.4 238.3,237.6 240.6,238.8 238.0,240.0 240.8,241.2 238.0,242.4 240.7,243.6 238.3,244.8 240.9,246.0 238.7,247.2 240.9,248.4 238.2,249.6 240.5,250.8 238.2,252.0 240.7,253.2 238.5,254.4 241.1,255.6 238.8,256.8 240.7,258.0 238.5,259.2 240.6,260.4 238.6,261.6 241.2,262.8 238.7,264.0 240.8,265.2 238.6,266.4 241.3,267.6 238.6,268.8 241.2,270.0 238.6,271.2 241.4,272.4 239.3,273.6 241.2,274.8 239.4,276.0 241.0,277.2 239.3,278.4 241.7,279.6 239.0,280.8 241.2,282.0 239.6,283.2 241.5,284.4 239.1,285.6 241.8,286.8 239.2,288.0 241.4,289.2 239.2,290.4 241.6,291.6 239.5,292.8 242.2,294.0 239.5,295.2 241.8,296.4 239.7,297.6 242.0,298.8 240.2,300.0 242.0,301.2 240.1,302.4 242.3,303.6 240.1,304.8 242.3,306.0 239.8,307.2 242.0,308.4 240.3,309.6 242.5,310.8 240.1,312.0 242.1,313.2 240.4,314.4 242.7,315.6 240.1,316.8 242.3,318.0 240.4,319.2 242.8,320.4 240.1,321.6 242.7,322.8 240.4,324.0 242.4,325.2 240.4,326.4 242.3,327.6 240.3,328.8 242.6,330.0 237.4,330.0 244.9,331.2 238.8,332.4 245.7,333.5 238.2,334.7 245.9,335.9 239.3,337.1 246.1,338.2 240.1,339.4 246.8,340.6 239.9,341.8 247.3,342.9 240.5,344.1 248.7,345.3 241.9,346.5 249.8,347.6 242.6,348.8 249.9,350.0 242.7,351.2 249.9,352.3 244.6,353.5 250.5,354.6 244.7,355.8 251.1,356.9 243.8,358.1 251.4,359.3 245.0,360.4 252.9,361.6 246.7,362.7 253.0,363.9 247.6,365.1 254.7,366.2 247.9,367.4 254.2,368.5 248.3,369.7 255.8,370.8 247.8,372.0 256.0,373.2 249.3,374.5 255.6,375.7 249.3,376.9 256.4,378.2 251.2,379.4 257.8,380.6 251.2,381.8 259.2,383.1 252.8,384.3 260.5,385.5 252.2,386.8 259.3,388.0 253.7,389.2 261.1,390.3 255.2,391.5 262.0,392.7 256.1,393.8 263.3,395.0 256.3,396.2 264.8,397.3 256.3,398.5 265.7,399.7 258.4,400.8 266.1,402.0 259.5,402.0 265.0,403.2 259.8,404.4 264.8,405.6 261.4,406.8 266.1,408.0 261.9,409.2 266.6,410.4 262.2,411.6 267.4,412.8 263.9,414.0 268.1,415.2 264.7,416.4 269.8,417.6 266.0,418.8 269.8,420.0 266.0,421.1 271.4,422.2 266.8,423.4 271.8,424.5 267.6,425.6 273.4,426.7 268.6,427.8 273.4,428.9 270.0,430.1 274.2,431.2 270.4,432.3 276.6,433.4 271.3,434.5 276.1,435.6 273.0,436.8 277.8,437.9 273.7,439.0 273.8,439.0 279.8,440.2 273.9,441.5 279.7,442.7 274.7,443.9 280.3,445.2 275.2,446.4 279.8,447.6 274.9,448.9 280.7,450.1 274.8,451.4 281.1,452.6 276.0,453.8 281.2,455.1 276.9,456.3 282.4,457.5 276.6,458.8 282.9,460.0 276.5,461.2 282.7,462.5 277.0,463.8 283.3,465.0 277.3,466.2 284.5,467.5 278.9,468.8 285.2,470.0 278.5,471.2 286.4,472.5 279.9,473.8 285.0,475.0 280.9,476.2 287.1,477.5 280.3,478.8 287.4,480.0 281.9,481.2 287.5,482.5 282.6,483.8 287.1,485.0 282.5,486.2 289.2,487.5 282.2,488.8 289.4,490.0 283.9,491.2 289.0,492.5 284.2,493.8 289.1,495.0 284.6,496.2 290.9,497.5 284.6,498.8 290.5,500.0 284.5,501.2 291.8,502.4 284.4,503.7 291.7,504.9 285.9,506.1 293.0,507.3 286.7,508.6 292.3,509.8 286.5,511.0 291.5,540.0 292.0,640.0 292.7,781.0 296.0,800.0 300.5,815.0 306.0,830.0 313.4,843.5 318.0,847.0 318.0,846.4 319.9,846.5 321.9,846.5 323.8,846.4 325.4,845.8 326.9,845.6 328.4,845.3 330.0,843.9 331.5,844.9 333.0,842.2 334.5,842.4 336.0,841.6 337.5,840.3 339.0,839.0 340.5,838.1 342.0,838.1 343.5,837.3 345.0,837.0 346.5,835.7 348.0,836.3 349.5,835.0 351.0,833.2 352.5,834.2 354.1,835.6 355.6,833.4 357.1,834.9 358.7,835.8 360.2,834.4 361.7,835.1 363.3,834.6 364.8,834.5 366.3,835.3 367.9,835.3 369.4,834.7 370.9,835.2 372.5,835.3 374.0,835.9 375.5,834.7 377.0,835.2 378.5,836.1 380.0,836.5 381.5,838.3 383.0,837.8 384.5,839.7 386.0,839.5 387.5,840.1 389.0,842.0 390.5,841.4 392.0,844.5 393.5,844.2 395.0,843.0 396.5,843.0 398.0,844.3 399.5,844.3 401.0,844.0 402.5,842.6 404.0,844.4 405.5,842.7 407.0,844.2 408.5,844.1 410.0,845.0 411.6,844.1 413.1,842.4 414.7,844.4 416.2,843.8 417.8,843.1 419.4,841.5 420.9,843.1 422.5,842.1 424.1,842.5 425.6,843.0 427.2,842.7 428.8,840.4 430.3,841.9 431.9,840.9 433.4,841.4 435.0,840.3 436.6,840.0 438.1,839.4 439.7,838.1 441.2,838.1 442.8,838.6 444.3,836.5 445.9,836.1 447.4,837.3 449.0,836.4 450.5,836.2 452.0,835.3 453.5,835.4 455.0,835.9 456.5,837.5 458.0,836.7 459.5,837.6 461.0,836.0 462.5,836.6 464.0,837.0 465.5,837.8 467.0,836.2 468.5,838.1 470.0,837.2 471.5,836.2 473.0,837.3 474.5,837.3 476.0,838.1 477.5,838.8 479.0,837.8 480.5,838.4 482.0,837.7 483.5,838.9 485.0,837.5 486.5,839.3 488.0,838.1 489.5,839.3 491.0,838.7 492.5,839.2 494.0,839.0 495.5,839.7 497.0,840.5 498.5,840.6 500.0,840.5 501.5,841.1 503.0,842.0 504.5,840.7 506.0,841.1 507.6,840.7 509.1,841.7 510.6,840.0 512.1,840.8 513.6,839.5 515.1,839.4 516.7,840.4 518.2,839.9 519.7,839.0 521.2,838.3 522.7,840.0 524.2,838.8 525.8,839.5 527.3,838.6 528.8,838.9 530.3,838.6 531.8,839.5 533.3,839.2 534.9,837.9 536.4,837.8 537.9,837.1 539.4,838.2 540.9,836.5 542.4,836.8 544.0,838.0 545.5,835.9 547.0,837.3 548.5,836.8 550.0,836.6 551.5,836.0 553.1,835.4 554.6,837.1 556.1,836.5 557.6,836.5 559.1,834.6 560.6,836.1 562.2,834.6 563.7,834.4 565.2,835.1 566.8,835.4 568.3,834.4 569.9,836.1 571.4,835.8 573.0,836.7 574.5,836.9 576.1,836.5 577.6,835.9 579.2,837.4 580.8,837.0 582.3,836.1 583.9,837.7 585.4,837.5 587.0,836.5 588.5,836.6 590.1,836.2 591.6,837.6 593.2,837.1 594.7,837.4 596.3,837.4 597.8,837.0 599.4,837.7 600.9,837.1 602.4,837.0 603.9,836.9 605.5,837.3 607.0,838.1 608.5,836.2 610.0,837.8 611.6,837.7 613.1,837.0 614.6,836.7 616.1,837.0 617.7,836.4 619.2,836.6 620.7,837.1 622.2,836.7 623.8,835.3 625.3,834.7 626.8,836.7 628.4,835.2 629.9,836.1 631.4,834.7 632.9,835.1 634.5,834.7 636.0,835.5 637.5,835.9 639.0,834.7 640.6,834.7 642.1,834.1 643.6,833.7 645.1,835.3 646.7,833.2 648.2,835.1 649.7,834.3 651.3,832.8 652.8,834.7 654.3,832.7 655.9,833.8 657.4,832.6 659.0,834.7 660.5,832.9 662.0,834.2 663.6,832.2 665.1,833.6 666.6,832.1 668.2,831.9 669.7,833.1 671.3,834.0 672.8,833.3 674.3,833.6 675.9,833.4 677.4,832.6 678.9,831.5 680.5,832.5 682.0,831.6 683.6,832.4 685.1,831.9 686.6,832.1 688.2,831.3 689.7,832.5 691.2,831.8 692.7,832.0 694.2,831.1 695.7,832.1 697.2,832.3 698.8,833.3 700.3,832.4 701.8,831.4 703.3,831.8 704.8,831.9 706.3,832.9 707.8,833.5 709.3,833.6 710.8,833.5 712.4,833.5 713.9,833.4 715.4,833.6 716.9,831.4 718.4,832.6 719.9,832.9 721.4,833.1 722.9,833.0 724.4,833.0 725.9,833.8 727.5,831.8 729.0,832.9 730.5,834.0 732.0,831.8 733.5,832.0 735.0,833.9 736.5,833.9 738.0,831.5 739.6,831.4 741.1,833.2 742.6,832.7 744.1,832.1 745.6,832.1 747.2,832.4 748.7,832.3 750.2,830.2 751.7,830.2 753.2,831.8 754.8,832.1 756.3,831.6 757.8,830.4 759.3,830.1 760.9,829.9 762.4,829.0 763.9,830.6 765.4,829.3 766.9,829.9 768.5,829.6 770.0,829.0 771.5,829.6 773.0,829.0 774.6,828.4 776.1,829.9 777.6,828.1 779.2,828.0 780.7,828.1 782.3,828.6 783.8,829.3 785.3,828.1 786.9,827.8 788.4,828.7 789.9,827.7 791.5,828.2 793.0,827.5 794.6,828.9 796.1,827.2 797.6,827.2 799.2,827.3 800.7,827.3 802.2,828.2 803.8,828.0 805.3,828.2 806.9,827.5 808.4,826.3 809.9,827.9 811.5,826.6 813.0,826.4 814.6,827.2 816.1,828.8 817.7,827.6 819.2,827.8 820.8,829.4 822.4,829.8 823.9,828.6 825.5,828.3 827.1,830.1 828.6,830.3 830.2,829.5 831.8,830.9 833.3,830.1 834.9,830.2 836.4,831.2 838.0,831.8 839.6,830.7 841.2,831.2 842.8,828.8 844.3,829.6 845.9,828.9 847.5,827.8 849.1,829.4 850.7,827.1 852.3,826.9 853.8,828.1 855.4,827.9 857.0,827.4 858.6,825.6 860.2,827.4 861.8,825.8 863.4,827.5 865.0,828.4 866.6,826.9 868.2,827.1 869.8,828.7 871.4,829.5 873.0,829.5 874.6,830.3 876.2,829.4 877.8,829.6 879.4,829.3 880.9,829.6 882.5,831.1 884.0,828.9 885.5,829.1 887.0,829.4 888.6,828.6 890.1,829.2 891.6,828.8 893.2,828.6 894.7,829.4 896.2,829.4 897.7,829.4 899.3,829.8 900.8,829.1 902.3,830.0 903.9,827.9 905.4,828.1 906.9,827.7 908.5,828.2 910.0,829.2 911.5,829.5 913.0,828.4 914.6,827.5 916.1,827.8 917.6,828.3 919.2,827.6 920.7,828.7 922.2,829.0 923.7,827.7 925.3,828.0 926.8,828.5 928.3,827.5 929.9,826.8 931.4,828.5 932.9,828.5 934.4,826.1 936.0,827.8 937.5,826.9 939.0,825.8 940.5,825.9 942.1,825.7 943.6,826.8 945.1,825.4 946.6,824.7 948.1,825.0 949.7,826.2 951.2,825.2 952.7,825.4 954.2,824.7 955.7,823.9 957.3,823.2 958.8,823.7 960.3,822.9 961.9,823.4 963.4,824.2 965.0,823.5 966.5,823.7 968.1,824.0 969.6,823.3 971.2,823.3 972.7,824.5 974.3,823.7 975.8,823.3 977.4,823.5 979.0,823.3 980.5,822.9 982.1,824.3 983.6,822.6 985.2,824.2 986.7,824.0 988.3,824.0 989.8,822.2 991.4,823.0 993.0,824.5 994.6,823.2 996.3,823.2 997.9,824.9 999.5,824.0 1001.1,825.2 1002.8,824.5 1004.4,826.7 1006.0,825.5 1007.5,826.1 1009.1,828.5 1010.6,828.8 1012.2,830.3 1013.8,831.2 1015.3,833.3 1016.9,833.4 1018.4,834.1 1020.0,833.2 1021.5,834.4 1023.1,833.8 1024.6,834.6 1026.2,834.7 1027.7,834.3 1029.3,833.4 1030.8,834.4 1032.4,834.4 1034.0,834.7 1035.5,835.5 1037.1,833.9 1038.6,834.3 1040.2,833.4 1041.7,835.1 1043.3,833.8 1044.8,835.2 1046.4,835.1 1047.9,833.8 1049.5,835.4 1051.0,834.2 1052.5,833.7 1054.1,833.8 1055.6,834.5 1057.1,833.1 1058.6,832.9 1060.2,832.2 1061.7,833.2 1063.2,832.2 1064.7,831.5 1066.3,830.9 1067.8,830.7 1069.3,832.0 1070.8,831.7 1072.4,831.8 1073.9,831.4 1075.4,830.6 1076.9,830.7 1078.5,830.2 1080.0,830.2 1081.5,829.9 1083.0,828.3 1084.6,829.8 1086.1,828.5 1087.6,828.3 1089.2,829.8 1090.7,827.6 1092.3,828.7 1093.8,828.2 1095.3,829.2 1096.9,828.7 1098.4,829.3 1099.9,829.3 1101.5,828.5 1103.0,827.1 1104.6,828.4 1106.1,827.0 1107.6,829.0 1109.2,828.7 1110.7,827.3 1112.2,826.9 1113.8,828.0 1115.3,828.1 1116.9,828.6 1118.4,827.6 1119.9,826.4 1121.5,827.7 1123.0,826.0 1124.5,828.1 1126.1,828.0 1127.6,828.1 1129.1,828.5 1130.7,827.8 1132.2,828.9 1133.8,828.2 1135.3,828.0 1136.8,827.9 1138.4,827.9 1139.9,827.2 1141.4,827.7 1143.0,829.3 1144.5,828.1 1146.1,829.2 1147.6,829.6 1149.1,829.5 1150.7,829.2 1152.2,828.8 1153.7,828.9 1155.3,828.8 1156.8,830.0 1158.4,830.2 1159.9,830.9 1161.4,829.6 1163.0,831.1 1164.5,831.2 1166.0,829.7 1167.6,831.2 1169.1,830.4 1170.6,831.2 1172.2,830.7 1173.7,829.6 1175.3,829.4 1176.8,830.0 1178.3,829.8 1179.9,828.7 1181.4,830.7 1182.9,829.8 1184.5,829.7 1186.0,830.3 1187.6,829.0 1189.1,828.9 1190.6,829.8 1192.2,828.9 1193.7,829.1 1195.2,828.4 1196.8,828.3 1198.3,829.0 1199.9,829.4 1201.4,830.4 1202.9,829.6 1204.5,829.0 1206.0,829.0 1207.5,828.4 1209.0,828.9 1210.6,829.9 1212.1,827.8 1213.6,828.4 1215.1,828.9 1216.6,828.9 1218.1,828.3 1219.7,828.4 1221.2,829.0 1222.7,828.8 1224.2,827.1 1225.7,827.7 1227.2,828.6 1228.8,827.4 1230.3,826.4 1231.8,827.7 1233.3,825.9 1234.8,826.0 1236.3,826.8 1237.9,826.0 1239.4,826.9 1240.9,826.8 1242.4,825.7 1243.9,826.7 1245.4,826.3 1247.0,826.3 1248.5,825.5 1250.0,825.4 1251.5,824.5 1253.0,825.2 1254.5,826.2 1256.1,825.9 1257.6,823.8 1259.1,823.7 1260.6,824.1 1262.1,825.0 1263.6,824.2 1265.2,823.4 1266.7,823.9 1268.2,824.2 1269.8,825.1 1271.3,824.8 1272.9,825.9 1274.5,826.5 1276.0,826.8 1277.6,826.0 1279.1,828.1 1280.7,827.2 1282.2,827.1 1283.7,828.1 1285.2,827.1 1286.8,827.2 1288.3,828.1 1289.8,828.3 1291.3,827.5 1292.8,829.5 1294.3,829.3 1295.8,828.5 1297.3,828.8 1298.8,828.2 1300.4,829.8 1301.9,827.8 1303.4,828.3 1304.9,828.1 1306.4,829.7 1307.9,828.9 1309.4,828.7 1311.0,828.7 1312.5,829.9 1314.0,828.5 1315.5,829.8 1317.0,829.6 1318.5,829.1 1320.0,828.9 1321.5,829.1 1323.0,829.2 1324.6,828.9 1326.1,829.7 1327.6,829.2 1329.1,829.0 1330.6,830.2 1332.1,829.5 1333.6,829.6 1335.2,830.6 1336.7,829.6 1338.2,829.5 1339.7,830.8 1341.2,831.0 1342.7,830.6 1344.2,829.7 1345.7,830.4 1347.2,830.6 1348.8,829.6 1350.3,830.7 1351.8,831.2 1353.3,830.2" fill="none" stroke="#00f" stroke-width="3.6" stroke-linejoin="round" stroke-linecap="butt"/>
<polyline points="317.0,816.8 319.0,817.3 321.0,816.7 323.0,817.7 325.0,817.6 327.0,817.3 329.0,817.9 331.0,814.9 333.0,815.3 335.0,814.8 337.1,815.5 339.2,817.0 341.3,815.6 343.4,816.5 345.5,814.5 347.6,815.0 349.7,816.2 351.8,814.6 353.9,815.8 356.0,815.3 358.0,815.5 360.0,813.8 362.0,814.8 364.0,816.8 366.0,815.0 368.0,814.8 370.0,817.1 372.0,815.9 374.0,816.3 376.0,815.8 378.0,816.3 380.0,815.7 382.0,815.0 384.0,814.8 386.0,814.3 388.0,815.4 390.0,813.3 392.0,813.1 394.0,814.0 396.0,815.2 398.0,814.3 400.0,813.6 402.0,813.6 404.0,811.7 406.0,812.3 408.0,810.6 410.0,812.1 412.0,810.6 414.0,810.8 416.0,810.9 418.0,811.5 420.0,811.9 422.1,811.8 424.1,812.0 426.2,812.8 428.3,815.9 430.4,816.7 432.4,817.1 434.5,815.4 436.6,816.2 438.6,818.9 440.7,816.9 442.8,817.1 444.8,818.4 446.9,819.2 449.0,818.9 451.0,818.4 453.1,816.6 455.2,817.7 457.2,818.1 459.3,817.8 461.4,817.8 463.4,816.9 465.5,816.8 467.5,816.3 469.6,815.3 471.7,815.5 473.7,816.4 475.8,815.1 477.9,813.3 479.9,814.3 482.0,815.4 484.0,815.1 486.0,814.6 488.0,816.1 490.0,815.7 492.0,814.3 494.0,815.9 496.0,816.5 498.0,814.1 500.0,817.0 502.0,815.7 504.0,817.1 506.0,814.7 508.0,815.8 510.0,815.9 512.0,815.8 514.0,817.3 516.0,817.9 518.0,817.6 520.0,818.5 522.0,816.3 524.0,817.0 526.0,817.5 528.0,818.8 530.0,818.8 532.0,819.7 534.0,819.5 536.1,818.4 538.2,818.8 540.2,818.9 542.3,817.9 544.4,818.2 546.5,818.6 548.6,818.4 550.6,816.3 552.7,815.7 554.8,817.6 556.9,817.8 559.0,815.8 561.0,817.6 563.1,817.2 565.2,815.3 567.3,815.1 569.4,816.4 571.4,816.1 573.5,814.5 575.6,816.5 577.7,814.2 579.7,815.9 581.8,816.0 583.9,813.3 586.0,814.9 588.0,814.2 590.1,815.1 592.2,813.5 594.2,813.2 596.3,812.4 598.4,814.1 600.5,812.3 602.6,813.8 604.6,811.0 606.7,813.4 608.8,810.8 610.9,812.9 612.9,813.5 615.0,811.7 617.1,812.5 619.2,811.9 621.2,810.9 623.3,813.2 625.4,812.2 627.5,813.1 629.5,810.8 631.6,811.2 633.7,811.4 635.8,813.1 637.8,810.8 639.9,810.8 642.0,811.8 644.1,811.9 646.1,813.2 648.2,813.3 650.3,811.4 652.4,812.9 654.4,811.8 656.5,813.0 658.6,812.7 660.7,809.3 662.8,808.8 664.8,807.1 666.9,805.5 669.0,804.2 671.1,804.4 673.1,803.3 675.2,803.4 677.3,804.1 679.4,803.4 681.4,801.8 683.5,801.4 685.6,801.6 687.6,803.4 689.7,801.8" fill="none" stroke="#f0f" stroke-width="9.0" stroke-linejoin="round" stroke-linecap="butt"/>
<polyline points="739.5,805.8 741.6,807.0 743.8,807.4 746.0,807.1 748.1,806.7 750.2,807.7 752.4,807.4 754.5,808.6 756.7,807.9 758.9,808.4 761.0,808.8 763.1,808.8 765.2,808.1 767.2,809.1 769.3,808.9 771.4,809.6 773.5,810.0 775.6,809.0 777.7,809.5 779.8,809.5 781.8,811.0 783.9,810.3 786.0,810.4 788.1,811.6 790.2,811.4 792.2,811.7 794.3,811.2 796.4,810.6 798.5,811.2 800.6,810.1 802.6,810.3 804.7,809.8 806.8,809.4 808.9,809.9 810.9,808.4 813.0,807.2 815.1,806.7 817.1,807.2 819.2,806.3 821.3,805.0 823.4,804.0 825.5,802.7 827.6,802.1 829.6,800.8 831.7,798.5 833.8,798.3 835.9,796.6 838.0,796.2 840.1,795.7 842.1,796.0 844.2,796.1 846.2,795.4 848.3,794.9 850.4,794.4 852.4,793.4 854.5,794.4 856.6,793.0 858.6,793.1 860.7,793.3 862.8,792.4 864.8,793.3 866.9,792.4 868.9,793.0 871.0,790.8 873.1,792.6 875.2,793.2 877.3,794.6 879.3,795.6 881.4,796.4 883.5,798.0 885.6,797.9 887.7,797.3 889.8,797.7 891.8,796.9 893.9,795.9 896.0,796.0" fill="none" stroke="#f0f" stroke-width="6.0" stroke-linejoin="round" stroke-linecap="butt"/>
<polyline points="224.5,912.0 226.0,600.0 228.0,350.0 231.5,222.0 233.0,330.0 234.0,459.0 236.0,624.0 240.0,690.0 247.0,746.0 248.5,640.0 250.0,545.0 252.0,560.0 255.0,660.0 258.0,760.0 262.0,800.0 265.5,826.0 267.0,700.0 268.0,560.0 269.0,433.0 272.0,520.0 276.0,620.0 280.0,700.0 285.0,792.0 287.0,760.0 289.0,650.0 291.0,540.0 295.0,418.0 298.0,520.0 301.0,600.0 303.0,650.0 303.0,650.0 304.2,697.0 305.4,648.8 306.6,697.0 307.8,649.4 309.0,697.0 310.2,653.6 312.0,700.0 315.0,770.0 317.0,818.0 317.0,820.9 318.0,816.9 319.0,819.0 320.0,814.8 321.0,817.1 322.0,819.0 323.0,815.9 324.0,817.9 325.0,815.4 326.0,816.4 327.0,819.9 328.0,815.0 329.0,819.1 330.0,813.9 331.0,816.9 332.0,818.3 333.0,818.2 334.0,815.5 335.0,816.5 336.0,817.2 337.0,817.5 338.0,817.3 339.0,816.3 340.0,814.3 341.0,816.9 342.0,816.0 343.0,815.9 344.0,818.5 345.0,813.3 346.0,817.2 347.0,814.4 348.0,816.7 349.0,818.0 350.0,813.9 351.0,815.6 352.0,815.4 353.0,815.1 354.0,813.1 355.0,815.8 356.0,817.4 357.0,816.0 358.0,813.8 359.0,817.0 360.0,814.7 361.0,813.1 362.0,815.9 363.0,815.1 364.0,815.5 365.0,818.3 366.0,815.8 367.0,818.2 368.0,814.6 369.0,817.1 370.0,813.0 371.0,814.4 372.0,816.8 373.0,816.8 374.0,817.7 375.0,815.1 376.0,814.5 377.0,815.0 378.0,816.1 379.0,813.1 380.0,815.2 381.0,816.8 382.0,813.6 383.0,814.4 384.0,817.7 385.0,817.9 386.0,813.6 387.0,813.1 388.0,812.6 389.0,812.2 390.0,816.3 391.0,815.9 392.0,812.9 393.0,814.1 394.0,815.2 395.0,811.0 396.0,815.6 397.0,815.7 398.0,811.7 399.0,814.5 400.0,814.3 401.0,812.0 402.0,815.1 403.0,811.0 404.0,812.4 405.0,811.3 406.0,811.9 407.0,814.0 408.0,812.4 409.0,812.7 410.0,814.9 411.0,810.3 412.0,810.3 413.0,812.7 414.0,809.9 415.0,814.8 416.0,811.0 417.0,811.6 418.0,811.6 419.0,814.0 420.0,814.5 421.0,813.4 422.1,810.7 423.1,812.1 424.1,814.5 425.2,811.9 426.2,816.2 427.2,816.5 428.3,812.9 429.3,814.1 430.4,813.6 431.4,816.8 432.4,813.1 433.5,817.3 434.5,813.9 435.5,818.8 436.6,817.4 437.6,817.9 438.6,815.3 439.7,815.3 440.7,817.5 441.7,821.2 442.7,818.8 443.7,820.3 444.7,815.4 445.7,815.5 446.7,814.9 447.8,818.9 448.8,815.7 449.8,816.1 450.8,818.4 451.8,818.5 452.8,816.1 453.8,816.9 454.8,815.7 455.8,817.3 456.8,815.9 457.8,815.9 458.8,815.1 459.8,815.3 460.8,815.0 461.9,813.4 462.9,815.1 463.9,816.7 464.9,814.6 465.9,813.6 466.9,817.9 467.9,815.5 468.9,815.7 469.9,814.4 470.9,817.7 471.9,816.8 472.9,815.9 473.9,816.1 474.9,816.2 476.0,814.9 477.0,814.3 478.0,814.0 479.0,814.6 480.0,814.3 481.0,814.6 482.0,814.5 483.0,816.1 484.0,816.8 485.0,812.9 486.0,811.7 487.0,813.5 488.0,812.0 489.0,816.6 490.0,815.7 491.0,813.7 492.0,813.2 493.0,817.4 494.0,817.3 495.0,816.4 496.0,816.6 497.0,816.9 498.0,815.3 499.0,815.0 500.0,816.0 501.0,818.1 502.0,818.8 503.0,818.5 504.0,818.0 505.0,813.6 506.0,814.7 507.0,819.1 508.0,816.6 509.0,816.5 510.0,815.4 511.0,818.8 512.0,816.8 513.0,819.7 514.0,814.3 515.0,819.9 516.0,814.1 517.0,814.9 518.0,816.5 519.0,818.1 520.0,815.0 521.0,817.7 522.0,820.1 523.0,817.1 524.0,819.2 525.0,818.2 526.0,818.3 527.0,815.9 528.0,817.7 529.0,820.4 530.0,819.1 531.0,816.5 532.0,817.9 533.0,818.6 534.0,817.4 535.0,818.8 536.0,819.1 537.0,815.3 538.0,816.4 539.0,819.0 540.0,816.3 541.0,815.4 542.1,819.4 543.1,816.8 544.1,820.5 545.1,818.0 546.1,815.2 547.1,818.3 548.1,816.0 549.1,819.3 550.1,818.7 551.1,818.8 552.1,814.5 553.1,814.3 554.1,818.8 555.1,814.8 556.1,815.1 557.1,814.0 558.2,814.8 559.2,816.5 560.2,819.4 561.2,815.5 562.2,815.1 563.2,818.4 564.2,814.5 565.2,817.1 566.2,816.9 567.2,818.7 568.2,813.3 569.2,816.3 570.3,815.1 571.3,817.6 572.3,814.1 573.3,816.8 574.3,813.5 575.3,815.3 576.3,818.0 577.3,813.5 578.4,813.7 579.4,817.4 580.4,815.8 581.4,812.1 582.4,812.7 583.4,812.9 584.4,813.1 585.4,816.4 586.5,815.4 587.5,817.0 588.5,815.0 589.5,814.7 590.5,813.1 591.5,815.0 592.5,813.6 593.5,810.9 594.6,813.4 595.6,812.6 596.6,813.4 597.6,810.4 598.6,810.2 599.6,815.8 600.6,812.0 601.6,811.7 602.7,810.5 603.7,813.1 604.7,814.9 605.7,810.4 606.7,812.2 607.7,812.2 608.7,813.8 609.8,812.6 610.8,810.6 611.8,810.3 612.8,813.5 613.8,809.7 614.8,814.4 615.9,809.4 616.9,810.3 617.9,812.0 618.9,814.3 619.9,812.9 620.9,813.7 622.0,813.8 623.0,813.5 624.0,809.5 625.0,814.2 626.0,810.1 627.1,810.2 628.1,809.4 629.1,809.4 630.1,814.5 631.1,811.5 632.1,809.7 633.2,809.5 634.2,814.3 635.2,812.8 636.2,814.7 637.2,809.4 638.2,809.9 639.3,810.9 640.3,810.3 641.3,809.9 642.3,810.4 643.3,813.0 644.4,810.2 645.4,810.2 646.4,812.4 647.4,811.5 648.4,810.1 649.4,812.6 650.5,812.2 651.5,811.5 652.5,812.0 653.5,809.4 654.5,812.9 655.5,810.4 656.6,811.2 657.6,809.3 658.6,814.5 659.6,811.9 660.7,809.9 661.7,810.0 662.8,811.6 663.8,805.9 664.8,806.6 665.9,807.7 666.9,804.9 668.0,806.1 669.0,806.4 670.0,801.1 671.1,802.5 672.1,802.4 673.1,805.1 674.2,805.2 675.2,804.5 676.2,805.8 677.3,801.2 678.3,802.4 679.4,805.0 680.4,804.0 681.4,801.0 682.5,804.7 683.5,803.5 684.5,804.0 685.6,801.6 686.6,802.6 687.6,804.0 688.7,803.7 689.7,802.1 690.7,803.6 691.7,804.2 692.7,803.5 693.8,802.8 694.8,804.3 695.8,800.7 696.8,802.0 697.8,802.8 698.8,801.0 699.9,803.9 700.9,800.8 701.9,803.4 702.9,801.9 703.9,802.2 704.9,803.6 706.0,801.8 707.0,803.0 708.0,804.9 709.0,805.6 710.0,802.5 711.0,803.0 712.1,804.5 713.1,802.4 714.1,805.4 715.1,802.6 716.1,804.3 717.1,803.4 718.2,802.0 719.2,802.1 720.2,802.2 721.2,803.7 722.2,803.6 723.2,806.8 724.3,805.3 725.3,802.9 726.3,805.8 727.3,803.8 728.3,805.0 729.3,806.1 730.4,806.8 731.4,807.2 732.4,805.1 733.4,804.7 734.4,805.1 735.4,804.8 736.5,806.8 737.5,805.7 738.5,806.7 739.5,804.5 740.5,807.4 741.5,808.3 742.6,805.0 743.6,807.0 744.6,805.1 745.6,804.6 746.7,806.4 747.7,805.5 748.7,808.0 749.7,807.5 750.8,808.0 751.8,809.4 752.8,805.5 753.8,805.8 754.9,805.7 755.9,807.6 756.9,809.4 757.9,808.9 759.0,808.4 760.0,809.9 761.0,807.8 762.0,806.8 763.0,809.2 764.0,806.6 765.1,807.5 766.1,806.8 767.1,807.4 768.1,807.1 769.1,809.2 770.1,807.5 771.1,809.7 772.1,810.7 773.2,808.7 774.2,807.8 775.2,810.3 776.2,810.7 777.2,811.4 778.2,810.1 779.2,810.3 780.3,811.6 781.3,810.9 782.3,812.2 783.3,809.3 784.3,811.5 785.3,811.0 786.3,810.4 787.4,808.4 788.4,810.6 789.4,809.7 790.4,811.3 791.4,811.0 792.4,811.0 793.4,809.1 794.4,809.5 795.5,811.7 796.5,812.1 797.5,813.6 798.5,812.8 799.5,810.3 800.6,810.8 801.6,810.7 802.6,811.8 803.7,809.7 804.7,811.8 805.7,809.6 806.8,809.0 807.8,809.1 808.9,808.3 809.9,810.8 810.9,806.4 812.0,807.7 813.0,806.0 814.0,808.4 815.1,805.8 816.1,805.5 817.1,806.5 818.2,807.0 819.2,807.5 820.2,805.5 821.3,804.3 822.3,804.0 823.4,805.7 824.4,802.2 825.5,800.7 826.5,804.0 827.6,801.6 828.6,799.5 829.6,799.0 830.7,801.7 831.7,800.5 832.8,796.9 833.8,799.1 834.9,796.5 835.9,796.9 837.0,797.0 838.0,794.0 839.0,797.8 840.0,795.0 841.0,794.1 842.0,796.7 843.0,793.6 844.0,793.2 845.0,795.8 846.0,794.9 847.0,796.6 848.0,796.0 849.0,793.3 850.0,792.5 851.0,794.8 852.0,794.1 853.0,793.2 854.0,795.8 855.0,792.6 856.0,794.3 857.0,791.7 858.0,795.3 859.0,795.3 860.0,793.7 861.0,792.3 862.0,793.9 863.0,794.6 864.0,794.0 865.0,790.5 866.0,792.5 867.0,790.7 868.0,792.4 869.0,794.0 870.0,793.5 871.0,790.7 872.0,792.5 873.1,791.9 874.1,791.7 875.2,794.6 876.2,795.2 877.3,793.7 878.3,794.5 879.3,796.2 880.4,796.8 881.4,796.1 882.5,795.0 883.5,795.3 884.6,796.1 885.6,799.4 886.6,797.8 887.7,798.2 888.7,796.8 889.8,796.6 890.8,795.6 891.8,798.9 892.9,797.1 893.9,794.8 895.0,797.1 896.0,796.4 897.0,796.6 898.0,797.3 899.0,796.7 900.0,797.4 901.1,797.8 902.1,796.2 903.1,797.0 904.1,796.2 905.1,796.4 906.1,796.3 907.1,797.2 908.1,796.4 909.2,796.5 910.2,798.1 911.2,798.0 912.2,797.7 913.2,798.3 914.2,797.0 915.2,797.8 916.2,796.7 917.3,797.0 918.3,796.4 919.3,798.6 920.3,799.0 921.3,797.2 922.3,797.5 923.3,796.8 924.3,797.0 925.4,798.5 926.4,799.4 927.4,797.0 928.4,797.6 929.4,799.2 930.4,797.7 931.4,799.7 932.4,798.2 933.5,798.6 934.5,797.9 935.5,798.2 936.5,798.7 937.5,798.3 938.5,799.8 939.5,797.8 940.5,799.7 941.6,800.2 942.6,798.9 943.6,798.6 944.6,798.4 945.6,798.4 946.6,800.6 947.7,800.1 948.7,798.5 949.7,799.8 950.7,800.4 951.7,799.6 952.7,798.8 953.8,800.1 954.8,800.0 955.8,801.9 956.8,800.1 957.8,801.9 958.8,801.8 959.8,801.0 960.9,799.8 961.9,801.9 962.9,799.8 963.9,801.3 964.9,800.0 965.9,800.1 967.0,801.1 968.0,800.4 969.0,803.0 970.0,801.9 971.0,802.9 972.0,803.2 973.0,802.7 974.1,802.4 975.1,802.0 976.1,803.0 977.1,802.7 978.1,801.3 979.1,802.5 980.2,802.2 981.2,802.6 982.2,803.3 983.2,803.3 984.2,803.0 985.2,803.7 986.3,803.9 987.3,801.8 988.3,802.1 989.3,801.8 990.3,802.4 991.4,805.0 992.4,803.2 993.5,803.8 994.5,804.1 995.6,804.6 996.6,803.9 997.6,805.6 998.7,804.4 999.7,806.2 1000.8,806.2 1001.8,804.0 1002.9,805.9 1003.9,804.7 1005.0,807.3 1006.0,805.0 1007.0,805.6 1008.0,807.1 1009.0,806.6 1010.0,806.8 1011.1,806.0 1012.1,806.4 1013.1,805.4 1014.1,806.2 1015.1,805.6 1016.1,806.8 1017.1,805.1 1018.1,805.2 1019.2,805.4 1020.2,806.4 1021.2,806.5 1022.2,804.8 1023.2,807.8 1024.2,807.3 1025.2,805.9 1026.2,805.3 1027.2,807.3 1028.3,807.7 1029.3,805.3 1030.3,807.1 1031.3,807.3 1032.3,807.6 1033.3,805.4 1034.3,805.2 1035.3,805.3 1036.3,805.5 1037.4,807.5 1038.4,807.5 1039.4,806.2 1040.4,805.2 1041.4,805.9 1042.4,805.5 1043.4,806.7 1044.4,807.0 1045.5,807.1 1046.5,806.1 1047.5,806.2 1048.5,806.2 1049.5,805.9 1050.5,806.2 1051.5,806.9 1052.5,807.0 1053.6,805.9 1054.6,806.6 1055.6,805.4 1056.6,805.1 1057.6,806.1 1058.6,806.1 1059.6,805.1 1060.6,805.3 1061.7,806.3 1062.7,807.9 1063.7,807.6 1064.7,805.2 1065.7,806.1 1066.7,806.3 1067.7,806.1 1068.8,805.6 1069.8,807.0 1070.8,807.8 1071.8,806.4 1072.8,805.8 1073.8,805.6 1074.8,805.4 1075.8,807.6 1076.9,806.1 1077.9,807.6 1078.9,807.8 1079.9,805.7 1080.9,806.0 1081.9,806.4 1082.9,807.8 1084.0,807.7 1085.0,806.4 1086.0,806.9 1087.0,806.6 1088.0,807.0 1089.0,808.0 1090.0,806.4 1091.1,808.1 1092.1,808.4 1093.1,807.5 1094.1,808.6 1095.1,808.6 1096.1,806.3 1097.1,808.8 1098.1,806.4 1099.2,808.3 1100.2,806.2 1101.2,806.8 1102.2,807.2 1103.2,808.5 1104.2,808.0 1105.2,806.6 1106.2,808.7 1107.2,808.7 1108.2,807.7 1109.2,806.3 1110.2,807.1 1111.2,807.1 1112.2,807.5 1113.2,809.1 1114.2,808.1 1115.2,808.8 1116.2,806.6 1117.2,807.2 1118.2,808.7 1119.2,807.6 1120.2,807.3 1121.2,806.8 1122.2,806.8 1123.2,807.9 1124.2,808.4 1125.2,808.0 1126.2,808.5 1127.2,807.7 1128.2,806.9 1129.2,808.9 1130.2,808.0 1131.2,808.5 1132.2,808.2 1133.2,807.9 1134.2,807.3 1135.2,808.0 1136.2,808.1 1137.2,807.6 1138.2,807.3 1139.2,808.7 1140.2,807.4 1141.2,810.0 1142.2,808.5 1143.2,808.8 1144.2,809.0 1145.2,807.6 1146.2,807.8 1147.2,809.9 1148.2,809.3 1149.2,809.1 1150.2,808.7 1151.2,810.0 1152.2,809.3 1153.2,810.2 1154.2,810.3 1155.2,810.6 1156.2,810.1 1157.2,810.0 1158.2,809.4 1159.2,809.6 1160.2,809.8 1161.2,809.7 1162.2,810.6 1163.2,810.8 1164.2,808.4 1165.2,810.5 1166.2,810.1 1167.2,810.1 1168.2,811.1 1169.2,808.6 1170.2,809.9 1171.2,809.6 1172.2,811.4 1173.2,809.0 1174.2,810.3 1175.2,809.1 1176.2,810.9 1177.2,810.2 1178.2,810.9 1179.2,809.7 1180.2,811.5 1181.2,808.9 1182.2,809.6 1183.2,811.1 1184.2,811.6 1185.2,811.3 1186.2,809.8 1187.2,809.1 1188.2,811.0 1189.2,811.0 1190.2,808.9 1191.2,811.5 1192.3,810.2 1193.3,808.6 1194.3,809.9 1195.3,809.4 1196.3,808.7 1197.3,811.0 1198.3,811.0 1199.3,808.6 1200.3,809.5 1201.3,808.9 1202.3,810.0 1203.3,808.3 1204.4,808.9 1205.4,809.1 1206.4,809.2 1207.4,809.0 1208.4,809.4 1209.4,810.4 1210.4,810.3 1211.4,810.2 1212.4,809.9 1213.4,808.1 1214.4,808.0 1215.5,808.6 1216.5,809.1 1217.5,809.0 1218.5,808.1 1219.5,810.0 1220.5,807.9 1221.5,807.0 1222.5,807.1 1223.5,807.4 1224.5,808.9 1225.5,809.2 1226.5,806.7 1227.5,807.3 1228.6,807.2 1229.6,808.8 1230.6,809.1 1231.6,807.1 1232.6,806.6 1233.6,809.1 1234.6,809.1 1235.6,808.2 1236.6,807.4 1237.6,808.2 1238.6,808.2 1239.7,807.4 1240.7,806.6 1241.7,807.3 1242.7,807.7 1243.7,806.6 1244.7,807.5 1245.7,805.9 1246.7,808.4 1247.7,806.0 1248.7,806.0 1249.7,808.1 1250.7,808.1 1251.8,807.9 1252.8,807.6 1253.8,807.6 1254.8,807.4 1255.8,806.6 1256.8,805.1 1257.8,807.0 1258.8,807.2 1259.8,807.2 1260.9,804.7 1261.9,804.7 1262.9,806.6 1263.9,805.8 1264.9,806.9 1265.9,807.1 1267.0,805.4 1268.0,806.0 1269.0,805.9 1270.0,805.9 1271.0,804.9 1272.0,805.6 1273.1,803.8 1274.1,806.2 1275.1,805.6 1276.1,805.8 1277.1,804.7 1278.2,803.8 1279.2,804.5 1280.2,805.1 1281.2,804.6 1282.2,803.2 1283.2,802.8 1284.3,803.9 1285.3,803.4 1286.3,803.2 1287.3,803.1 1288.3,803.6 1289.3,804.4 1290.4,805.0 1291.4,804.2 1292.4,802.1 1293.4,804.6 1294.4,803.7 1295.5,804.0 1296.5,803.6 1297.5,802.7 1298.5,802.6 1299.5,801.7 1300.5,803.4 1301.6,801.5 1302.6,803.3 1303.6,803.9 1304.6,803.1 1305.6,802.8 1306.6,803.4 1307.7,803.7 1308.7,803.2 1309.7,803.7 1310.7,802.1 1311.7,800.7 1312.7,802.5 1313.7,802.6 1314.7,803.3 1315.8,802.5 1316.8,801.8 1317.8,800.7 1318.8,803.2 1319.8,802.6 1320.8,803.7 1321.8,802.5 1322.8,803.3 1323.8,803.0 1324.8,803.7 1325.8,802.1 1326.8,803.4 1327.9,801.9 1328.9,800.7 1329.9,801.7 1330.9,801.8 1331.9,803.7 1332.9,801.9 1333.9,801.5 1334.9,802.8 1335.9,801.0 1336.9,801.6 1337.9,801.9 1338.9,801.1 1340.0,802.5 1341.0,802.0 1342.0,803.1 1343.0,801.7 1344.0,803.6 1345.0,801.3 1346.0,801.3 1347.1,799.3 1348.1,797.6 1349.1,797.5 1350.2,798.2 1351.2,795.4 1353.0,800.0" fill="none" stroke="#f0f" stroke-width="3.6" stroke-linejoin="round" stroke-linecap="butt"/>
<line x1="345.0" y1="814.3" x2="345.0" y2="795.3" stroke="#f0f" stroke-width="3.4"/>
<line x1="364.0" y1="816.5" x2="364.0" y2="797.5" stroke="#f0f" stroke-width="3.4"/>
<line x1="387.0" y1="814.1" x2="387.0" y2="793.1" stroke="#f0f" stroke-width="3.4"/>
<line x1="401.0" y1="813.0" x2="401.0" y2="790.0" stroke="#f0f" stroke-width="3.4"/>
<line x1="406.0" y1="812.9" x2="406.0" y2="787.9" stroke="#f0f" stroke-width="3.4"/>
<line x1="411.0" y1="811.3" x2="411.0" y2="788.3" stroke="#f0f" stroke-width="3.4"/>
<line x1="419.5" y1="815.0" x2="419.5" y2="794.0" stroke="#f0f" stroke-width="3.4"/>
<line x1="440.0" y1="816.3" x2="440.0" y2="805.3" stroke="#f0f" stroke-width="3.4"/>
<line x1="461.5" y1="816.0" x2="461.5" y2="793.0" stroke="#f0f" stroke-width="3.4"/>
<line x1="473.0" y1="816.9" x2="473.0" y2="794.9" stroke="#f0f" stroke-width="3.4"/>
<line x1="497.0" y1="817.9" x2="497.0" y2="808.9" stroke="#f0f" stroke-width="3.4"/>
<line x1="520.0" y1="816.0" x2="520.0" y2="805.0" stroke="#f0f" stroke-width="3.4"/>
<line x1="560.0" y1="817.5" x2="560.0" y2="808.5" stroke="#f0f" stroke-width="3.4"/>
<line x1="600.0" y1="816.8" x2="600.0" y2="807.8" stroke="#f0f" stroke-width="3.4"/>
<line x1="640.0" y1="811.9" x2="640.0" y2="803.9" stroke="#f0f" stroke-width="3.4"/>
<line x1="667.0" y1="805.9" x2="667.0" y2="792.9" stroke="#f0f" stroke-width="3.4"/>
<line x1="686.0" y1="802.6" x2="686.0" y2="791.6" stroke="#f0f" stroke-width="3.4"/>
<line x1="721.0" y1="803.2" x2="721.0" y2="792.2" stroke="#f0f" stroke-width="3.4"/>
<line x1="800.0" y1="811.3" x2="800.0" y2="804.3" stroke="#f0f" stroke-width="3.4"/>
<line x1="830.0" y1="800.0" x2="830.0" y2="792.0" stroke="#f0f" stroke-width="3.4"/>
<line x1="880.0" y1="797.2" x2="880.0" y2="789.2" stroke="#f0f" stroke-width="3.4"/>
<line x1="1005.0" y1="808.3" x2="1005.0" y2="802.3" stroke="#f0f" stroke-width="3.4"/>
<line x1="1097.0" y1="807.3" x2="1097.0" y2="802.3" stroke="#f0f" stroke-width="3.4"/>
<line x1="1260.0" y1="808.2" x2="1260.0" y2="803.2" stroke="#f0f" stroke-width="3.4"/>
<polyline points="224.5,884.0 225.5,500.0 226.5,245.0 228.5,240.0 228.5,240.0 229.2,355.2 229.9,258.7 230.6,405.6 231.3,277.3 232.0,446.0 232.7,296.0 233.0,410.0 234.5,475.0 236.0,402.0 237.5,475.2 239.0,414.0 240.5,473.5 242.0,413.0 243.5,470.5 245.0,406.0 246.5,465.0 248.0,400.0 249.5,464.2 250.2,348.0 251.0,400.0 251.0,403.8 252.5,468.5 254.0,407.5 255.5,471.5 257.0,411.2 258.5,475.8 260.0,415.0 261.5,475.0 263.0,412.8 264.5,467.5 266.0,406.0 267.5,452.5 267.0,349.0 268.5,348.0 270.0,400.0 269.0,405.0 270.5,446.9 272.0,420.0 273.5,445.0 275.0,438.0 272.9,440.0 277.4,441.2 272.6,442.4 277.5,443.6 272.8,444.8 276.8,446.0 273.0,447.2 276.6,448.4 273.3,449.6 276.7,450.8 274.0,452.0 277.9,453.2 274.1,454.4 277.7,455.6 273.7,456.8 276.9,458.0 273.4,459.2 277.0,460.4 273.4,461.6 278.0,462.8 273.9,464.0 277.6,465.2 274.6,466.4 278.0,467.6 274.7,468.8 277.9,470.0 273.6,471.2 278.2,472.4 274.7,473.6 278.3,474.8 274.1,476.0 277.9,477.2 274.1,478.4 278.3,479.6 274.6,480.8 278.3,482.0 274.8,483.2 278.1,484.4 274.2,485.6 278.2,486.8 274.4,488.0 278.3,489.2 275.2,490.4 278.0,491.6 274.3,492.8 279.0,494.0 274.4,495.2 278.9,496.4 275.6,497.6 278.4,498.8 275.7,500.0 279.1,501.2 275.1,502.4 279.6,503.6 275.5,504.8 278.7,506.0 275.7,507.2 278.7,508.4 276.0,509.6 279.2,510.8 275.6,512.0 279.2,513.2 275.0,514.4 279.2,515.6 275.3,516.8 279.5,518.0 276.3,519.2 279.0,520.4 275.7,521.6 280.1,522.8 276.5,524.0 280.0,525.2 276.3,526.4 280.0,527.6 275.7,528.8 280.2,530.0 276.5,531.2 279.5,532.4 275.7,533.6 280.6,534.8 275.8,536.0 280.2,537.2 277.0,538.4 280.0,539.6 276.0,540.8 279.7,542.0 276.8,543.2 279.8,544.4 276.2,545.6 280.3,546.8 277.2,548.0 280.3,549.2 277.2,550.4 280.5,551.6 276.7,552.8 280.9,554.0 277.5,555.2 280.8,556.4 277.6,557.6 280.8,558.8 276.7,560.0 280.6,561.2 276.8,562.4 280.7,563.6 277.4,564.8 281.4,566.0 278.0,567.2 281.2,568.4 277.4,569.6 281.5,570.8 277.0,572.0 281.6,573.2 278.0,574.4 281.0,575.6 277.7,576.8 281.2,578.0 277.7,579.2 281.0,580.4 277.6,581.6 281.5,582.8 278.5,584.0 281.2,585.2 277.5,586.4 282.2,587.6 277.6,588.8 281.7,590.0 277.6,591.2 281.5,592.4 278.0,593.6 282.6,594.8 278.7,596.0 281.5,597.2 278.9,598.4 281.7,599.6 278.1,600.8 282.4,602.0 278.6,603.2 281.9,604.4 278.5,605.6 282.0,606.8 279.2,608.0 282.6,609.2 278.6,610.4 283.0,611.6 278.5,612.8 282.2,614.0 279.2,615.2 282.3,616.4 279.1,617.6 282.2,618.8 278.7,620.0 283.1,621.2 278.8,622.4 283.0,623.6 278.8,624.8 283.5,626.0 279.0,627.2 283.5,628.4 279.8,629.6 283.0,630.8 280.1,632.0 283.6,633.2 279.6,634.4 284.0,635.6 279.9,636.8 283.4,638.0 279.3,639.2 284.1,640.4 279.5,641.6 284.1,642.8 279.4,644.0 283.4,645.2 279.9,646.4 283.2,647.6 279.9,648.8 284.4,650.0 280.2,651.2 283.5,652.4 280.2,653.6 283.5,654.8 280.4,656.0 283.6,657.2 280.5,658.4 284.6,659.6 280.2,660.8 284.7,662.0 280.6,663.2 284.3,664.4 281.2,665.6 284.8,666.8 280.6,668.0 284.4,669.2 281.2,670.4 284.5,671.6 281.4,672.8 284.2,674.0 281.5,675.2 284.7,676.4 281.5,677.6 285.2,678.8 281.0,680.0 285.4,681.2 281.2,682.4 284.7,683.7 281.7,684.9 285.7,686.1 281.5,687.3 285.6,688.5 281.5,689.8 285.0,691.0 282.2,692.2 285.6,693.4 281.6,694.6 286.4,695.9 282.0,697.1 285.7,698.3 282.9,699.5 286.2,700.7 282.6,702.0 286.8,703.2 283.0,704.4 286.0,705.6 283.3,706.8 286.0,708.0 282.5,709.3 287.2,710.5 283.5,711.7 286.2,712.9 283.1,714.1 286.7,715.4 283.2,716.6 287.7,717.8 283.2,719.0 287.0,720.2 283.5,721.5 287.2,722.7 283.4,723.9 287.3,725.1 283.4,726.3 288.0,727.6 283.6,728.8 287.7,730.0 283.6,731.2 288.2,732.4 284.7,733.6 288.4,734.8 284.8,736.1 287.9,737.3 285.3,738.5 288.7,739.7 285.3,740.9 288.3,742.1 284.8,743.3 288.5,744.5 285.0,745.8 288.9,747.0 285.7,748.2 289.9,749.4 285.3,750.6 289.9,751.8 285.3,753.0 289.8,754.2 285.5,755.5 290.0,756.7 286.1,757.9 289.8,759.1 286.5,760.3 290.3,761.5 286.9,762.7 290.6,763.9 286.3,765.2 290.9,766.4 287.3,767.6 290.2,768.8 287.3,770.0 290.9,771.2 286.9,772.5 291.2,773.8 287.5,775.0 291.5,776.2 287.7,777.5 291.8,778.8 287.9,780.0 291.8,781.2 288.5,782.5 291.5,783.8 288.4,785.0 292.7,786.2 288.0,787.5 292.1,788.8 288.6,790.0 292.6,791.2 289.0,792.5 292.4,793.8 288.8,795.0 292.6,796.2 289.9,797.4 293.3,798.7 290.4,799.9 293.6,801.1 291.0,802.3 294.5,803.6 291.3,804.8 295.1,806.0 293.0,806.2 294.5,808.2 296.0,810.0 298.0,810.7 300.0,810.6 301.5,810.8 303.0,811.2 304.5,810.1 306.0,811.1 307.5,810.7 309.0,811.3 310.5,810.5 312.0,810.3 313.5,810.6 315.0,809.6 316.5,809.6 318.0,809.7 319.5,810.2 321.0,810.0 322.6,808.8 324.1,810.2 325.7,810.1 327.2,809.0 328.8,809.8 330.3,808.9 331.9,808.3 333.4,807.5 335.0,807.2 336.5,808.2 338.1,808.3 339.6,808.0 341.2,808.1 342.7,807.3 344.3,807.7 345.8,807.3 347.4,807.2 348.9,806.9 350.5,807.0 352.0,806.6 353.6,805.5 355.1,806.5 356.7,806.4 358.2,805.9 359.7,807.0 361.2,806.0 362.7,805.4 364.2,806.1 365.7,805.8 367.2,805.5 368.7,806.9 370.3,805.5 371.8,806.6 373.3,805.6 374.8,806.3 376.3,807.2 377.8,805.4 379.3,807.0 380.8,805.3 382.3,807.3 383.8,807.2 385.3,806.3 386.8,806.7 388.3,806.3 389.8,805.8 391.3,806.2 392.8,806.3 394.3,807.2 395.9,805.7 397.4,806.6 398.9,806.5 400.4,806.7 401.9,807.2 403.4,806.8 404.9,806.3 406.4,807.5 407.9,806.9 409.4,806.2 410.9,806.8 412.4,807.4 413.9,805.8 415.4,807.0 416.9,806.7 418.4,806.4 419.9,806.1 421.4,806.3 423.0,806.7 424.5,806.7 426.0,807.1 427.5,806.4 429.0,807.2 430.5,806.9 432.0,807.6 433.5,807.6 435.0,806.5 436.5,807.9 438.0,807.0 439.5,806.6 441.0,806.4 442.6,807.3 444.1,806.7 445.6,807.2 447.1,806.3 448.6,807.5 450.1,806.3 451.6,807.5 453.1,806.6 454.6,806.5 456.2,806.8 457.7,806.7 459.2,806.7 460.7,806.7 462.2,807.5 463.7,807.1 465.2,805.7 466.7,807.5 468.2,805.5 469.8,805.6 471.3,807.1 472.8,806.0 474.3,805.5 475.8,805.8 477.3,806.4 478.8,807.0 480.3,805.4 481.8,805.6 483.4,805.3 484.9,805.4 486.4,805.9 487.9,806.2 489.4,807.1 490.9,806.5 492.4,806.9 493.9,806.3 495.4,806.9 497.0,806.4 498.5,805.5 500.0,805.8 501.5,806.0 503.0,805.2 504.5,806.8 506.0,805.9 507.5,805.3 509.0,805.8 510.5,806.4 512.1,805.3 513.6,805.9 515.1,804.9 516.6,805.2 518.1,805.0 519.6,805.6 521.1,805.9 522.6,805.0 524.1,805.9 525.6,805.6 527.1,805.9 528.7,806.4 530.2,805.0 531.7,806.3 533.2,805.2 534.7,805.3 536.2,804.6 537.7,804.3 539.2,805.4 540.7,804.3 542.2,804.1 543.7,804.2 545.3,805.1 546.8,804.3 548.3,804.4 549.8,805.4 551.3,804.7 552.8,804.1 554.3,805.1 555.8,805.7 557.3,804.9 558.8,804.5 560.3,804.7 561.9,805.0 563.4,805.2 564.9,805.1 566.4,804.0 567.9,805.0 569.4,803.6 570.9,803.6 572.4,804.3 573.9,803.7 575.4,804.4 576.9,803.8 578.5,805.1 580.0,804.0 581.5,804.7 583.0,805.0 584.5,803.9 586.0,804.5 587.5,804.0 589.0,803.7 590.5,803.2 592.0,804.2 593.5,804.7 595.0,804.2 596.5,803.4 598.0,803.8 599.5,803.4 601.0,803.5 602.5,804.2 604.0,802.6 605.5,803.6 607.0,803.6 608.5,802.8 610.0,804.0 611.5,802.9 613.0,803.2 614.5,802.8 616.0,803.4 617.5,803.0 619.0,803.4 620.5,802.8 622.0,803.5 623.5,802.9 625.0,802.0 626.5,802.7 628.0,802.1 629.5,802.1 631.0,803.3 632.5,802.3 634.0,802.8 635.5,801.5 637.0,802.4 638.5,801.3 640.0,801.4 641.5,801.1 643.1,800.8 644.6,802.4 646.1,802.4 647.6,801.1 649.2,800.2 650.7,801.5 652.2,801.3 653.7,799.9 655.3,801.2 656.8,799.7 658.3,799.9 659.8,800.8 661.4,800.7 662.9,799.5 664.4,799.9 665.9,800.4 667.5,799.8 669.0,799.6 670.5,798.7 672.1,798.4 673.6,798.5 675.1,799.0 676.7,799.0 678.2,798.6 679.7,798.8 681.3,798.6 682.8,798.6 684.3,798.0 685.9,798.7 687.4,798.0 688.9,798.5 690.5,798.6 692.0,798.2 693.5,797.9 695.1,797.6 696.6,797.1 698.2,796.4 699.7,795.9 701.2,796.9 702.8,795.9 704.3,796.5 705.9,796.2 707.4,796.1 709.0,795.6 710.5,795.1 712.0,795.4 713.6,796.4 715.1,797.0 716.6,796.1 718.1,796.3 719.7,796.8 721.2,797.0 722.7,797.6 724.2,798.1 725.8,798.3 727.3,798.6 728.8,798.6 730.3,799.3 731.9,798.5 733.4,798.7 734.9,799.4 736.4,798.9 738.0,800.1 739.5,799.5 741.0,799.7 742.6,799.4 744.1,799.0 745.7,798.1 747.2,798.5 748.8,798.8 750.3,799.6 751.9,797.8 753.4,799.2 754.9,799.1 756.5,798.6 758.0,797.5 759.6,796.8 761.1,798.4 762.7,796.6 764.2,796.9 765.8,798.0 767.3,797.3 768.8,797.1 770.4,796.6 771.9,794.7 773.4,794.8 774.9,793.4 776.5,793.4 778.0,793.1 779.5,793.2 781.0,791.6 782.6,791.8 784.1,790.2 785.6,789.9 787.1,788.9 788.7,789.4 790.2,788.9 791.7,789.1 793.2,788.5 794.7,789.5 796.2,789.0 797.7,788.7 799.2,789.2 800.7,787.8 802.2,788.0 803.7,788.5 805.2,788.6 806.7,789.2 808.2,788.6 809.7,787.3 811.2,789.1 812.7,788.1 814.2,787.6 815.7,788.6 817.2,788.3 818.7,788.8 820.2,788.1 821.7,787.5 823.2,787.9 824.7,787.8 826.2,787.6 827.7,788.0 829.2,787.1 830.7,787.3 832.2,787.0 833.7,786.8 835.2,787.8 836.8,788.3 838.3,787.7 839.8,788.8 841.4,788.3 842.9,788.5 844.5,787.8 846.0,789.1 847.5,788.1 849.1,789.1 850.6,788.0 852.1,789.5 853.7,789.0 855.2,788.1 856.8,789.3 858.3,788.2 859.8,788.7 861.4,788.8 862.9,788.8 864.4,788.9 866.0,788.6 867.5,789.1 869.1,788.6 870.6,790.1 872.1,789.3 873.7,790.1 875.2,789.6 876.8,789.9 878.4,789.0 880.0,788.0 881.6,787.5 883.2,787.0 884.8,786.3 886.4,784.5 888.0,784.2 889.6,782.4 891.2,782.3 892.8,781.5 894.4,781.4 896.0,779.4 897.5,780.8 899.1,779.3 900.6,779.9 902.1,779.9 903.7,780.5 905.2,780.0 906.8,778.9 908.3,779.8 909.8,778.8 911.4,779.5 912.9,779.0 914.4,779.9 916.0,778.8 917.5,778.3 919.1,778.3 920.6,779.5 922.1,778.1 923.7,777.8 925.2,778.3 926.7,778.4 928.3,778.9 929.8,777.0 931.4,777.4 932.9,778.1 934.4,777.5 936.0,777.8 937.5,777.6 939.0,776.4 940.5,776.3 942.1,776.5 943.6,776.7 945.1,776.4 946.6,776.6 948.1,776.2 949.6,775.9 951.2,776.9 952.7,777.3 954.2,776.1 955.7,775.9 957.2,777.1 958.7,775.7 960.3,775.8 961.8,776.5 963.3,776.0 964.8,776.9 966.3,776.3 967.8,776.3 969.4,776.0 970.9,775.2 972.4,776.8 973.9,775.8 975.4,776.7 976.9,775.2 978.5,775.8 980.0,775.9 981.5,775.1 983.0,774.9 984.5,776.6 986.0,776.5 987.6,776.6 989.1,775.6 990.6,776.0 992.1,775.7 993.6,775.4 995.1,774.7 996.7,775.6 998.2,775.1 999.7,775.6 1001.2,774.0 1002.7,774.1 1004.2,773.4 1005.8,774.4 1007.3,773.5 1008.8,772.8 1010.3,773.5 1011.8,772.6 1013.3,771.8 1014.8,771.7 1016.4,770.6 1017.9,770.4 1019.4,770.0 1020.9,771.5 1022.4,771.0 1023.9,770.1 1025.4,770.5 1026.9,769.4 1028.5,769.3 1030.0,767.9 1031.5,768.2 1033.0,768.2 1034.5,767.9 1036.0,768.5 1037.5,768.0 1039.0,768.7 1040.5,767.9 1042.0,768.5 1043.5,768.5 1045.0,768.8 1046.5,767.9 1048.0,768.4 1049.5,769.4 1051.0,768.4 1052.5,769.1 1054.1,770.2 1055.6,769.5 1057.1,769.8 1058.6,769.9 1060.1,770.3 1061.6,769.2 1063.2,769.3 1064.7,770.1 1066.2,768.7 1067.7,769.6 1069.2,769.3 1070.7,769.9 1072.3,770.3 1073.8,770.7 1075.3,770.0 1076.3,727.9 1078.0,769.2 1079.8,753.2 1081.5,736.7 1083.0,741.7 1084.6,747.2 1086.2,752.9 1087.7,758.4 1089.3,760.0 1090.8,762.1 1092.4,765.4 1094.0,766.9 1095.5,768.1 1097.1,771.3 1098.6,773.8 1100.2,775.5 1101.7,775.1 1103.3,777.1 1104.8,776.0 1106.3,777.2 1107.8,777.6 1109.4,777.5 1110.9,778.2 1112.4,778.5 1113.9,779.0 1115.5,779.2 1117.0,780.9 1118.5,781.5 1120.0,781.1 1121.6,783.0 1123.1,782.5 1124.6,783.0 1126.1,784.5 1127.7,784.4 1129.2,784.5 1130.7,785.0 1132.3,784.8 1133.8,783.8 1135.3,783.2 1136.9,784.4 1138.4,784.3 1139.9,783.9 1141.5,782.8 1143.0,783.9 1144.5,782.6 1146.1,783.7 1147.6,783.2 1149.2,783.1 1150.7,781.9 1152.2,782.3 1153.8,782.9 1155.3,781.5 1156.8,781.3 1158.4,781.9 1159.9,782.6 1161.4,782.0 1163.0,781.1 1164.5,780.7 1166.0,782.1 1167.5,782.0 1169.0,781.7 1170.5,780.6 1172.0,781.6 1173.6,780.1 1175.1,780.3 1176.6,780.5 1178.1,781.7 1179.6,779.8 1181.1,780.0 1182.6,781.1 1184.1,781.0 1185.6,780.0 1187.1,779.5 1188.6,781.0 1190.2,781.1 1191.7,780.9 1193.2,780.2 1194.7,779.1 1196.2,780.4 1197.7,780.1 1199.2,780.4 1200.7,780.2 1202.2,779.6 1203.7,780.5 1205.2,779.4 1206.8,779.3 1208.3,779.6 1209.8,779.8 1211.3,779.3 1212.8,779.9 1214.3,778.5 1215.8,779.7 1217.3,779.6 1218.8,778.4 1220.3,777.7 1221.8,778.8 1223.4,778.8 1224.9,779.4 1226.4,778.5 1227.9,778.7 1229.4,778.7 1230.9,777.5 1232.4,778.4 1233.9,777.9 1235.4,777.3 1236.9,777.4 1238.4,777.5 1240.0,778.2 1241.5,777.7 1243.0,777.2 1244.5,776.6 1246.0,778.0 1247.5,777.8 1249.1,777.8 1250.7,777.5 1252.3,775.9 1253.9,776.2 1255.5,776.4 1257.1,775.9 1258.6,776.8 1260.2,775.4 1261.8,774.9 1263.4,775.6 1265.0,774.6 1266.6,774.4 1268.2,775.4 1269.8,775.8 1271.4,776.1 1273.0,775.5 1274.6,776.9 1276.2,777.2 1277.8,777.2 1279.4,777.4 1281.0,777.7 1282.6,778.8 1284.2,778.9 1285.8,779.8 1287.4,780.3 1289.0,780.0 1290.5,780.6 1292.1,780.0 1293.6,781.0 1295.1,779.9 1296.7,780.7 1298.2,781.0 1299.7,781.2 1301.2,780.7 1302.8,781.5 1304.3,781.6 1305.8,781.3 1307.4,780.4 1308.9,780.3 1310.4,781.0 1312.0,780.0 1313.5,780.2 1315.0,780.0 1316.6,781.2 1318.1,780.7 1319.6,781.8 1321.2,781.6 1322.7,781.0 1324.2,780.7 1325.7,780.7 1327.3,780.2 1328.8,780.3 1330.3,781.9 1331.9,780.7 1333.4,780.2 1334.9,782.1 1336.5,781.0 1338.0,781.8 1339.5,781.2 1341.1,782.2 1342.6,780.5 1344.1,781.3 1345.6,781.7 1347.2,780.4 1348.7,782.3 1350.2,781.1 1351.8,781.8 1353.3,781.5" fill="none" stroke="#008000" stroke-width="3.6" stroke-linejoin="round" stroke-linecap="butt"/>
<line x1="372.5" y1="807.6" x2="372.5" y2="790.6" stroke="#008000" stroke-width="3.4"/>
<line x1="386.5" y1="807.3" x2="386.5" y2="799.3" stroke="#008000" stroke-width="3.4"/>
<line x1="344.0" y1="808.3" x2="344.0" y2="802.3" stroke="#008000" stroke-width="3.4"/>
<line x1="355.0" y1="806.5" x2="355.0" y2="801.5" stroke="#008000" stroke-width="3.4"/>
<line x1="398.0" y1="807.6" x2="398.0" y2="800.6" stroke="#008000" stroke-width="3.4"/>
<line x1="410.0" y1="807.2" x2="410.0" y2="799.2" stroke="#008000" stroke-width="3.4"/>
<line x1="425.0" y1="807.7" x2="425.0" y2="801.7" stroke="#008000" stroke-width="3.4"/>
<line x1="441.0" y1="807.6" x2="441.0" y2="801.6" stroke="#008000" stroke-width="3.4"/>
<line x1="452.0" y1="808.5" x2="452.0" y2="799.5" stroke="#008000" stroke-width="3.4"/>
<line x1="463.0" y1="808.5" x2="463.0" y2="801.5" stroke="#008000" stroke-width="3.4"/>
<line x1="470.0" y1="806.6" x2="470.0" y2="799.6" stroke="#008000" stroke-width="3.4"/>
<line x1="478.0" y1="807.4" x2="478.0" y2="796.4" stroke="#008000" stroke-width="3.4"/>
<line x1="494.0" y1="807.3" x2="494.0" y2="801.3" stroke="#008000" stroke-width="3.4"/>
<line x1="509.0" y1="806.3" x2="509.0" y2="800.3" stroke="#008000" stroke-width="3.4"/>
<line x1="521.0" y1="806.6" x2="521.0" y2="798.6" stroke="#008000" stroke-width="3.4"/>
<line x1="530.0" y1="807.4" x2="530.0" y2="777.4" stroke="#008000" stroke-width="3.4"/>
<line x1="546.0" y1="806.1" x2="546.0" y2="796.1" stroke="#008000" stroke-width="3.4"/>
<line x1="556.0" y1="806.7" x2="556.0" y2="798.7" stroke="#008000" stroke-width="3.4"/>
<line x1="566.0" y1="806.1" x2="566.0" y2="796.1" stroke="#008000" stroke-width="3.4"/>
<line x1="575.0" y1="804.7" x2="575.0" y2="797.7" stroke="#008000" stroke-width="3.4"/>
<line x1="588.0" y1="805.0" x2="588.0" y2="797.0" stroke="#008000" stroke-width="3.4"/>
<line x1="598.0" y1="804.8" x2="598.0" y2="795.8" stroke="#008000" stroke-width="3.4"/>
<line x1="606.0" y1="804.6" x2="606.0" y2="798.6" stroke="#008000" stroke-width="3.4"/>
<line x1="617.0" y1="804.4" x2="617.0" y2="795.4" stroke="#008000" stroke-width="3.4"/>
<line x1="632.0" y1="804.3" x2="632.0" y2="799.3" stroke="#008000" stroke-width="3.4"/>
<line x1="645.0" y1="803.4" x2="645.0" y2="797.4" stroke="#008000" stroke-width="3.4"/>
<line x1="656.0" y1="802.2" x2="656.0" y2="795.2" stroke="#008000" stroke-width="3.4"/>
<line x1="664.0" y1="800.5" x2="664.0" y2="795.5" stroke="#008000" stroke-width="3.4"/>
<line x1="676.0" y1="800.0" x2="676.0" y2="794.0" stroke="#008000" stroke-width="3.4"/>
<line x1="690.0" y1="799.5" x2="690.0" y2="792.5" stroke="#008000" stroke-width="3.4"/>
<line x1="705.0" y1="797.5" x2="705.0" y2="791.5" stroke="#008000" stroke-width="3.4"/>
<line x1="725.0" y1="799.1" x2="725.0" y2="789.1" stroke="#008000" stroke-width="3.4"/>
<line x1="740.0" y1="800.5" x2="740.0" y2="794.5" stroke="#008000" stroke-width="3.4"/>
<line x1="760.0" y1="797.8" x2="760.0" y2="791.8" stroke="#008000" stroke-width="3.4"/>
<line x1="785.0" y1="791.2" x2="785.0" y2="786.2" stroke="#008000" stroke-width="3.4"/>
<line x1="820.0" y1="789.8" x2="820.0" y2="785.8" stroke="#008000" stroke-width="3.4"/>
<line x1="905.0" y1="781.5" x2="905.0" y2="776.5" stroke="#008000" stroke-width="3.4"/>
<line x1="972.0" y1="776.2" x2="972.0" y2="770.2" stroke="#008000" stroke-width="3.4"/>
<line x1="1000.0" y1="776.6" x2="1000.0" y2="771.6" stroke="#008000" stroke-width="3.4"/>
<line x1="1040.0" y1="769.7" x2="1040.0" y2="765.7" stroke="#008000" stroke-width="3.4"/>
<rect x="222.2" y="250" width="4.8" height="706" fill="#000" fill-opacity="0.35"/>
<text transform="translate(192.4,974.1) scale(1,1.06)" font-size="50.5" text-anchor="end">0.0</text>
<text transform="translate(192.4,852.0) scale(1,1.06)" font-size="50.5" text-anchor="end">0.1</text>
<text transform="translate(192.4,729.8) scale(1,1.06)" font-size="50.5" text-anchor="end">0.2</text>
<text transform="translate(192.4,607.7) scale(1,1.06)" font-size="50.5" text-anchor="end">0.3</text>
<text transform="translate(192.4,485.5) scale(1,1.06)" font-size="50.5" text-anchor="end">0.4</text>
<text transform="translate(192.4,363.4) scale(1,1.06)" font-size="50.5" text-anchor="end">0.5</text>
<text transform="translate(192.4,241.3) scale(1,1.06)" font-size="50.5" text-anchor="end">0.6</text>
<text transform="translate(192.4,119.1) scale(1,1.06)" font-size="50.5" text-anchor="end">0.7</text>
<text transform="translate(223.4,1030.1) scale(1,1.045)" font-size="50.5" text-anchor="middle">0</text>
<text transform="translate(380.2,1030.1) scale(1,1.045)" font-size="50.5" text-anchor="middle">1000</text>
<text transform="translate(537.1,1030.1) scale(1,1.045)" font-size="50.5" text-anchor="middle">2000</text>
<text transform="translate(693.9,1030.1) scale(1,1.045)" font-size="50.5" text-anchor="middle">3000</text>
<text transform="translate(850.7,1030.1) scale(1,1.045)" font-size="50.5" text-anchor="middle">4000</text>
<text transform="translate(1007.5,1030.1) scale(1,1.045)" font-size="50.5" text-anchor="middle">5000</text>
<text transform="translate(1164.4,1030.1) scale(1,1.045)" font-size="50.5" text-anchor="middle">6000</text>
<text transform="translate(1321.2,1030.1) scale(1,1.045)" font-size="50.5" text-anchor="middle">7000</text>
<text transform="translate(1478.0,1030.1) scale(1,1.045)" font-size="50.5" text-anchor="middle">8000</text>
<text transform="translate(851.2,1111.4) scale(1,1.04)" font-size="51" text-anchor="middle">Cycle Times</text>
<text transform="translate(85.3,482.3) rotate(-90) scale(1,1.06)" font-size="50.5" text-anchor="middle">Friction Coefficient</text>
<rect x="989.7" y="116.7" width="346.5" height="330" fill="#fff" stroke="#666" stroke-width="2.6"/>
<line x1="1008" y1="151.6" x2="1132.6" y2="151.6" stroke="#000" stroke-width="3.6"/>
<text transform="translate(1144.4,169.5) scale(1,1.03)" font-size="55">0.66um</text>
<line x1="1008" y1="217.7" x2="1132.6" y2="217.7" stroke="#f00" stroke-width="3.6"/>
<text transform="translate(1144.4,235.6) scale(1,1.03)" font-size="55">0.82um</text>
<line x1="1008" y1="283.8" x2="1132.6" y2="283.8" stroke="#00f" stroke-width="3.6"/>
<text transform="translate(1144.4,301.7) scale(1,1.03)" font-size="55">1.01um</text>
<line x1="1008" y1="349.9" x2="1132.6" y2="349.9" stroke="#f0f" stroke-width="3.6"/>
<text transform="translate(1144.4,367.8) scale(1,1.03)" font-size="55">1.15um</text>
<line x1="1008" y1="416.0" x2="1132.6" y2="416.0" stroke="#008000" stroke-width="3.6"/>
<text transform="translate(1144.4,433.9) scale(1,1.03)" font-size="55">1.26um</text>
</svg></body></html>
